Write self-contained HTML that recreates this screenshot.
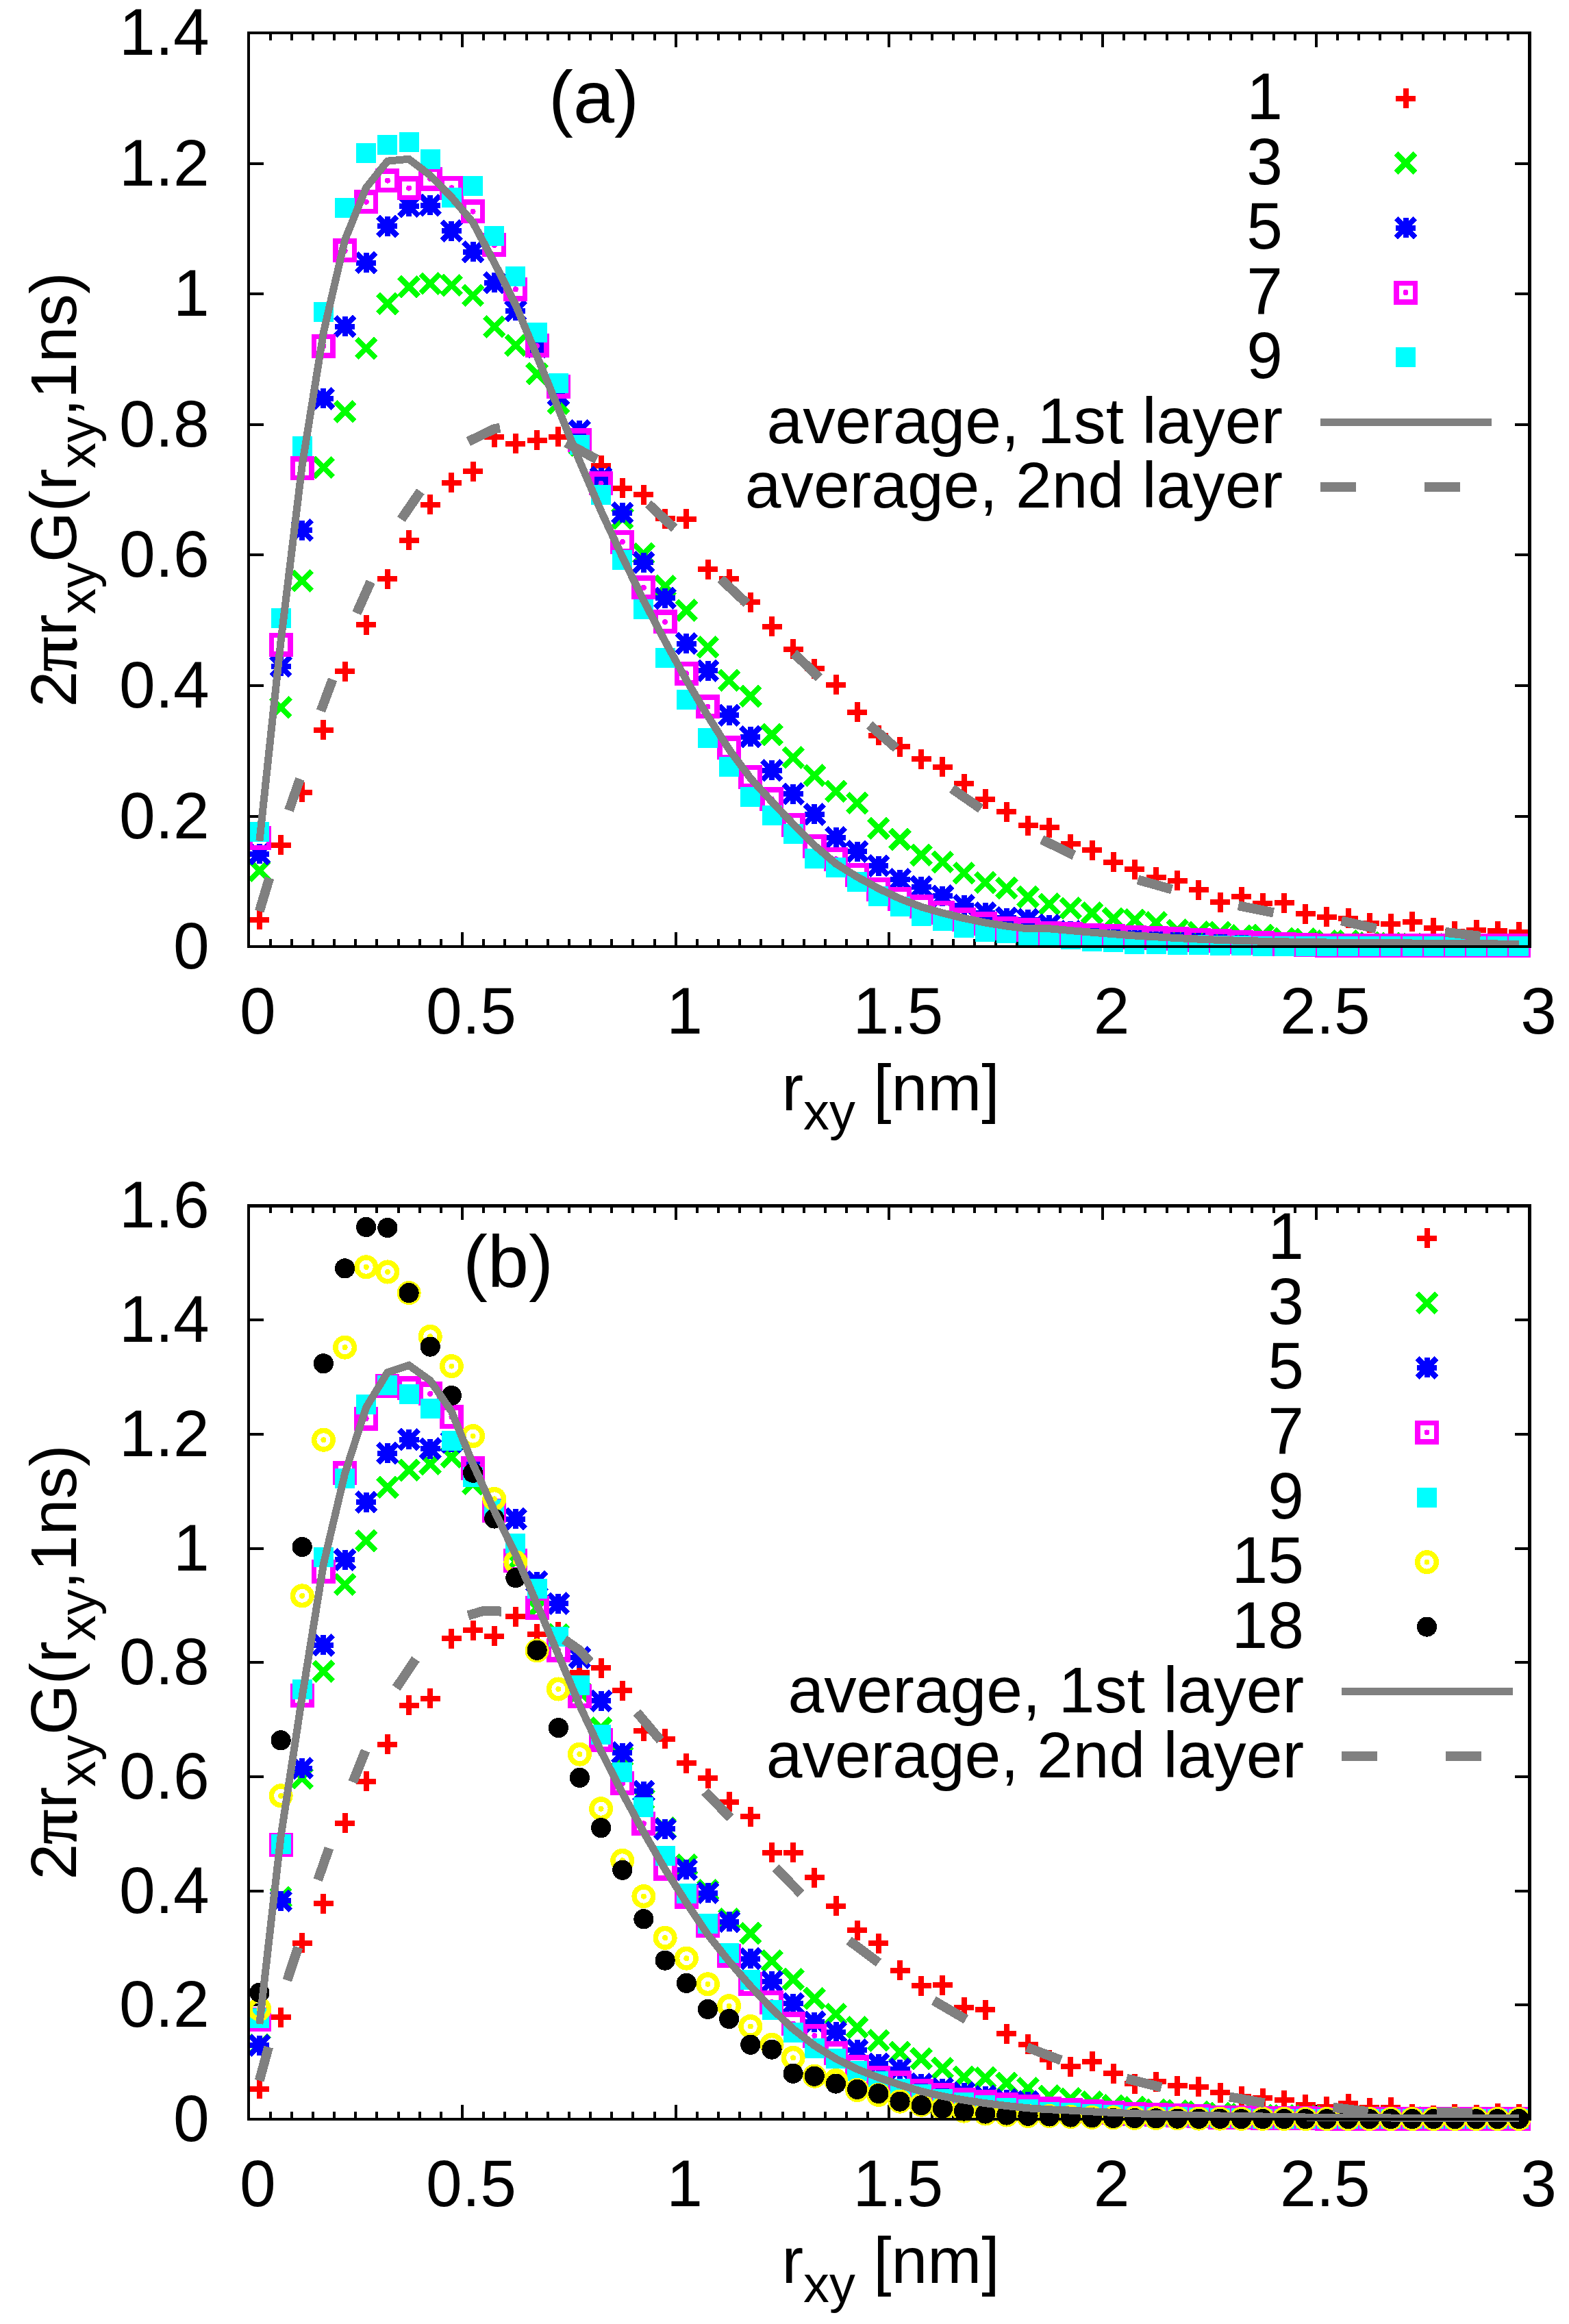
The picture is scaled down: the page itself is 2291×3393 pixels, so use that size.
<!DOCTYPE html>
<html lang="en"><head><meta charset="utf-8"><title>2πr G(r, 1ns) — layers</title>
<style>html,body{margin:0;padding:0;background:#fff}svg{display:block}text{font-family:"Liberation Sans", Arial, Helvetica, sans-serif;fill:#000}</style></head><body>
<svg width="2291" height="3393" viewBox="0 0 2291 3393" shape-rendering="crispEdges">
<rect width="2291" height="3393" fill="#fff"/>
<g id="panel-a">
<path d="M363.3 1191.5h22M2233.5 1191.5h-22M363.3 1000.9h22M2233.5 1000.9h-22M363.3 810.4h22M2233.5 810.4h-22M363.3 619.9h22M2233.5 619.9h-22M363.3 429.4h22M2233.5 429.4h-22M363.3 238.8h22M2233.5 238.8h-22M394.5 1382.0v-11M394.5 48.3v11M425.6 1382.0v-11M425.6 48.3v11M456.8 1382.0v-11M456.8 48.3v11M488.0 1382.0v-11M488.0 48.3v11M519.1 1382.0v-11M519.1 48.3v11M550.3 1382.0v-11M550.3 48.3v11M581.5 1382.0v-11M581.5 48.3v11M612.7 1382.0v-11M612.7 48.3v11M643.8 1382.0v-11M643.8 48.3v11M675.0 1382.0v-21M675.0 48.3v21M706.2 1382.0v-11M706.2 48.3v11M737.3 1382.0v-11M737.3 48.3v11M768.5 1382.0v-11M768.5 48.3v11M799.7 1382.0v-11M799.7 48.3v11M830.9 1382.0v-11M830.9 48.3v11M862.0 1382.0v-11M862.0 48.3v11M893.2 1382.0v-11M893.2 48.3v11M924.4 1382.0v-11M924.4 48.3v11M955.5 1382.0v-11M955.5 48.3v11M986.7 1382.0v-21M986.7 48.3v21M1017.9 1382.0v-11M1017.9 48.3v11M1049.0 1382.0v-11M1049.0 48.3v11M1080.2 1382.0v-11M1080.2 48.3v11M1111.4 1382.0v-11M1111.4 48.3v11M1142.5 1382.0v-11M1142.5 48.3v11M1173.7 1382.0v-11M1173.7 48.3v11M1204.9 1382.0v-11M1204.9 48.3v11M1236.1 1382.0v-11M1236.1 48.3v11M1267.2 1382.0v-11M1267.2 48.3v11M1298.4 1382.0v-21M1298.4 48.3v21M1329.6 1382.0v-11M1329.6 48.3v11M1360.7 1382.0v-11M1360.7 48.3v11M1391.9 1382.0v-11M1391.9 48.3v11M1423.1 1382.0v-11M1423.1 48.3v11M1454.2 1382.0v-11M1454.2 48.3v11M1485.4 1382.0v-11M1485.4 48.3v11M1516.6 1382.0v-11M1516.6 48.3v11M1547.8 1382.0v-11M1547.8 48.3v11M1578.9 1382.0v-11M1578.9 48.3v11M1610.1 1382.0v-21M1610.1 48.3v21M1641.3 1382.0v-11M1641.3 48.3v11M1672.4 1382.0v-11M1672.4 48.3v11M1703.6 1382.0v-11M1703.6 48.3v11M1734.8 1382.0v-11M1734.8 48.3v11M1765.9 1382.0v-11M1765.9 48.3v11M1797.1 1382.0v-11M1797.1 48.3v11M1828.3 1382.0v-11M1828.3 48.3v11M1859.5 1382.0v-11M1859.5 48.3v11M1890.6 1382.0v-11M1890.6 48.3v11M1921.8 1382.0v-21M1921.8 48.3v21M1953.0 1382.0v-11M1953.0 48.3v11M1984.1 1382.0v-11M1984.1 48.3v11M2015.3 1382.0v-11M2015.3 48.3v11M2046.5 1382.0v-11M2046.5 48.3v11M2077.7 1382.0v-11M2077.7 48.3v11M2108.8 1382.0v-11M2108.8 48.3v11M2140.0 1382.0v-11M2140.0 48.3v11M2171.2 1382.0v-11M2171.2 48.3v11M2202.3 1382.0v-11M2202.3 48.3v11" stroke="#000" stroke-width="4" fill="none" shape-rendering="crispEdges"/>
<g><path d="M364.4 1342.6H393.4M378.9 1328.1V1357.1" stroke="#ff0000" stroke-width="8.0" fill="none"/><path d="M395.6 1233.7H424.6M410.1 1219.2V1248.2" stroke="#ff0000" stroke-width="8.0" fill="none"/><path d="M426.7 1156.5H455.7M441.2 1142.0V1171.0" stroke="#ff0000" stroke-width="8.0" fill="none"/><path d="M457.9 1065.5H486.9M472.4 1051.0V1080.0" stroke="#ff0000" stroke-width="8.0" fill="none"/><path d="M489.1 980.0H518.1M503.6 965.5V994.5" stroke="#ff0000" stroke-width="8.0" fill="none"/><path d="M520.2 912.2H549.2M534.7 897.7V926.7" stroke="#ff0000" stroke-width="8.0" fill="none"/><path d="M551.4 845.4H580.4M565.9 830.9V859.9" stroke="#ff0000" stroke-width="8.0" fill="none"/><path d="M582.6 788.8H611.6M597.1 774.3V803.3" stroke="#ff0000" stroke-width="8.0" fill="none"/><path d="M613.7 736.5H642.7M628.2 722.0V751.0" stroke="#ff0000" stroke-width="8.0" fill="none"/><path d="M644.9 704.7H673.9M659.4 690.2V719.2" stroke="#ff0000" stroke-width="8.0" fill="none"/><path d="M676.1 688.1H705.1M690.6 673.6V702.6" stroke="#ff0000" stroke-width="8.0" fill="none"/><path d="M707.3 638.4H736.3M721.8 623.9V652.9" stroke="#ff0000" stroke-width="8.0" fill="none"/><path d="M738.4 647.7H767.4M752.9 633.2V662.2" stroke="#ff0000" stroke-width="8.0" fill="none"/><path d="M769.6 642.6H798.6M784.1 628.1V657.1" stroke="#ff0000" stroke-width="8.0" fill="none"/><path d="M800.8 637.5H829.8M815.3 623.0V652.0" stroke="#ff0000" stroke-width="8.0" fill="none"/><path d="M831.9 650.2H860.9M846.4 635.7V664.7" stroke="#ff0000" stroke-width="8.0" fill="none"/><path d="M863.1 679.6H892.1M877.6 665.1V694.1" stroke="#ff0000" stroke-width="8.0" fill="none"/><path d="M894.3 712.7H923.3M908.8 698.2V727.2" stroke="#ff0000" stroke-width="8.0" fill="none"/><path d="M925.4 722.1H954.4M939.9 707.6V736.6" stroke="#ff0000" stroke-width="8.0" fill="none"/><path d="M956.6 757.3H985.6M971.1 742.8V771.8" stroke="#ff0000" stroke-width="8.0" fill="none"/><path d="M987.8 757.8H1016.8M1002.3 743.3V772.3" stroke="#ff0000" stroke-width="8.0" fill="none"/><path d="M1019.0 831.2H1048.0M1033.5 816.7V845.7" stroke="#ff0000" stroke-width="8.0" fill="none"/><path d="M1050.1 845.3H1079.1M1064.6 830.8V859.8" stroke="#ff0000" stroke-width="8.0" fill="none"/><path d="M1081.3 879.2H1110.3M1095.8 864.7V893.7" stroke="#ff0000" stroke-width="8.0" fill="none"/><path d="M1112.5 914.6H1141.5M1127.0 900.1V929.1" stroke="#ff0000" stroke-width="8.0" fill="none"/><path d="M1143.6 947.5H1172.6M1158.1 933.0V962.0" stroke="#ff0000" stroke-width="8.0" fill="none"/><path d="M1174.8 976.0H1203.8M1189.3 961.5V990.5" stroke="#ff0000" stroke-width="8.0" fill="none"/><path d="M1206.0 999.7H1235.0M1220.5 985.2V1014.2" stroke="#ff0000" stroke-width="8.0" fill="none"/><path d="M1237.1 1039.8H1266.1M1251.6 1025.3V1054.3" stroke="#ff0000" stroke-width="8.0" fill="none"/><path d="M1268.3 1073.7H1297.3M1282.8 1059.2V1088.2" stroke="#ff0000" stroke-width="8.0" fill="none"/><path d="M1299.5 1090.2H1328.5M1314.0 1075.7V1104.7" stroke="#ff0000" stroke-width="8.0" fill="none"/><path d="M1330.7 1108.1H1359.7M1345.2 1093.6V1122.6" stroke="#ff0000" stroke-width="8.0" fill="none"/><path d="M1361.8 1119.6H1390.8M1376.3 1105.1V1134.1" stroke="#ff0000" stroke-width="8.0" fill="none"/><path d="M1393.0 1144.3H1422.0M1407.5 1129.8V1158.8" stroke="#ff0000" stroke-width="8.0" fill="none"/><path d="M1424.2 1166.7H1453.2M1438.7 1152.2V1181.2" stroke="#ff0000" stroke-width="8.0" fill="none"/><path d="M1455.3 1185.1H1484.3M1469.8 1170.6V1199.6" stroke="#ff0000" stroke-width="8.0" fill="none"/><path d="M1486.5 1205.0H1515.5M1501.0 1190.5V1219.5" stroke="#ff0000" stroke-width="8.0" fill="none"/><path d="M1517.7 1208.0H1546.7M1532.2 1193.5V1222.5" stroke="#ff0000" stroke-width="8.0" fill="none"/><path d="M1548.8 1232.2H1577.8M1563.3 1217.7V1246.7" stroke="#ff0000" stroke-width="8.0" fill="none"/><path d="M1580.0 1241.1H1609.0M1594.5 1226.6V1255.6" stroke="#ff0000" stroke-width="8.0" fill="none"/><path d="M1611.2 1258.9H1640.2M1625.7 1244.4V1273.4" stroke="#ff0000" stroke-width="8.0" fill="none"/><path d="M1642.4 1269.1H1671.4M1656.9 1254.6V1283.6" stroke="#ff0000" stroke-width="8.0" fill="none"/><path d="M1673.5 1280.6H1702.5M1688.0 1266.1V1295.1" stroke="#ff0000" stroke-width="8.0" fill="none"/><path d="M1704.7 1285.7H1733.7M1719.2 1271.2V1300.2" stroke="#ff0000" stroke-width="8.0" fill="none"/><path d="M1735.9 1299.0H1764.9M1750.4 1284.5V1313.5" stroke="#ff0000" stroke-width="8.0" fill="none"/><path d="M1767.0 1317.1H1796.0M1781.5 1302.6V1331.6" stroke="#ff0000" stroke-width="8.0" fill="none"/><path d="M1798.2 1309.2H1827.2M1812.7 1294.7V1323.7" stroke="#ff0000" stroke-width="8.0" fill="none"/><path d="M1829.4 1318.9H1858.4M1843.9 1304.4V1333.4" stroke="#ff0000" stroke-width="8.0" fill="none"/><path d="M1860.5 1318.3H1889.5M1875.0 1303.8V1332.8" stroke="#ff0000" stroke-width="8.0" fill="none"/><path d="M1891.7 1334.1H1920.7M1906.2 1319.6V1348.6" stroke="#ff0000" stroke-width="8.0" fill="none"/><path d="M1922.9 1338.7H1951.9M1937.4 1324.2V1353.2" stroke="#ff0000" stroke-width="8.0" fill="none"/><path d="M1954.1 1340.8H1983.1M1968.6 1326.3V1355.3" stroke="#ff0000" stroke-width="8.0" fill="none"/><path d="M1985.2 1347.7H2014.2M1999.7 1333.2V1362.2" stroke="#ff0000" stroke-width="8.0" fill="none"/><path d="M2016.4 1348.9H2045.4M2030.9 1334.4V1363.4" stroke="#ff0000" stroke-width="8.0" fill="none"/><path d="M2047.6 1345.9H2076.6M2062.1 1331.4V1360.4" stroke="#ff0000" stroke-width="8.0" fill="none"/><path d="M2078.7 1354.5H2107.7M2093.2 1340.0V1369.0" stroke="#ff0000" stroke-width="8.0" fill="none"/><path d="M2109.9 1359.6H2138.9M2124.4 1345.1V1374.1" stroke="#ff0000" stroke-width="8.0" fill="none"/><path d="M2141.1 1357.9H2170.1M2155.6 1343.4V1372.4" stroke="#ff0000" stroke-width="8.0" fill="none"/><path d="M2172.2 1359.1H2201.2M2186.7 1344.6V1373.6" stroke="#ff0000" stroke-width="8.0" fill="none"/><path d="M2203.4 1360.9H2232.4M2217.9 1346.4V1375.4" stroke="#ff0000" stroke-width="8.0" fill="none"/></g>
<g><path d="M364.9 1257.2L392.9 1285.2M364.9 1285.2L392.9 1257.2" stroke="#00ff00" stroke-width="8.0" fill="none"/><path d="M396.1 1018.8L424.1 1046.8M396.1 1046.8L424.1 1018.8" stroke="#00ff00" stroke-width="8.0" fill="none"/><path d="M427.2 834.0L455.2 862.0M427.2 862.0L455.2 834.0" stroke="#00ff00" stroke-width="8.0" fill="none"/><path d="M458.4 668.5L486.4 696.5M458.4 696.5L486.4 668.5" stroke="#00ff00" stroke-width="8.0" fill="none"/><path d="M489.6 586.9L517.6 614.9M489.6 614.9L517.6 586.9" stroke="#00ff00" stroke-width="8.0" fill="none"/><path d="M520.7 494.4L548.7 522.4M520.7 522.4L548.7 494.4" stroke="#00ff00" stroke-width="8.0" fill="none"/><path d="M551.9 429.4L579.9 457.4M551.9 457.4L579.9 429.4" stroke="#00ff00" stroke-width="8.0" fill="none"/><path d="M583.1 404.6L611.1 432.6M583.1 432.6L611.1 404.6" stroke="#00ff00" stroke-width="8.0" fill="none"/><path d="M614.2 400.1L642.2 428.1M614.2 428.1L642.2 400.1" stroke="#00ff00" stroke-width="8.0" fill="none"/><path d="M645.4 402.6L673.4 430.6M645.4 430.6L673.4 402.6" stroke="#00ff00" stroke-width="8.0" fill="none"/><path d="M676.6 417.4L704.6 445.4M676.6 445.4L704.6 417.4" stroke="#00ff00" stroke-width="8.0" fill="none"/><path d="M707.8 463.0L735.8 491.0M707.8 491.0L735.8 463.0" stroke="#00ff00" stroke-width="8.0" fill="none"/><path d="M738.9 490.2L766.9 518.2M738.9 518.2L766.9 490.2" stroke="#00ff00" stroke-width="8.0" fill="none"/><path d="M770.1 531.7L798.1 559.7M770.1 559.7L798.1 531.7" stroke="#00ff00" stroke-width="8.0" fill="none"/><path d="M801.3 574.8L829.3 602.8M801.3 602.8L829.3 574.8" stroke="#00ff00" stroke-width="8.0" fill="none"/><path d="M832.4 636.0L860.4 664.0M832.4 664.0L860.4 636.0" stroke="#00ff00" stroke-width="8.0" fill="none"/><path d="M863.6 689.8L891.6 717.8M863.6 717.8L891.6 689.8" stroke="#00ff00" stroke-width="8.0" fill="none"/><path d="M894.8 742.8L922.8 770.8M894.8 770.8L922.8 742.8" stroke="#00ff00" stroke-width="8.0" fill="none"/><path d="M925.9 794.6L953.9 822.6M925.9 822.6L953.9 794.6" stroke="#00ff00" stroke-width="8.0" fill="none"/><path d="M957.1 841.7L985.1 869.7M957.1 869.7L985.1 841.7" stroke="#00ff00" stroke-width="8.0" fill="none"/><path d="M988.3 877.2L1016.3 905.2M988.3 905.2L1016.3 877.2" stroke="#00ff00" stroke-width="8.0" fill="none"/><path d="M1019.5 930.7L1047.5 958.7M1019.5 958.7L1047.5 930.7" stroke="#00ff00" stroke-width="8.0" fill="none"/><path d="M1050.6 979.4L1078.6 1007.4M1050.6 1007.4L1078.6 979.4" stroke="#00ff00" stroke-width="8.0" fill="none"/><path d="M1081.8 1002.3L1109.8 1030.3M1081.8 1030.3L1109.8 1002.3" stroke="#00ff00" stroke-width="8.0" fill="none"/><path d="M1113.0 1058.4L1141.0 1086.4M1113.0 1086.4L1141.0 1058.4" stroke="#00ff00" stroke-width="8.0" fill="none"/><path d="M1144.1 1092.0L1172.1 1120.0M1144.1 1120.0L1172.1 1092.0" stroke="#00ff00" stroke-width="8.0" fill="none"/><path d="M1175.3 1118.3L1203.3 1146.3M1175.3 1146.3L1203.3 1118.3" stroke="#00ff00" stroke-width="8.0" fill="none"/><path d="M1206.5 1141.2L1234.5 1169.2M1206.5 1169.2L1234.5 1141.2" stroke="#00ff00" stroke-width="8.0" fill="none"/><path d="M1237.6 1158.6L1265.6 1186.6M1237.6 1186.6L1265.6 1158.6" stroke="#00ff00" stroke-width="8.0" fill="none"/><path d="M1268.8 1195.3L1296.8 1223.3M1268.8 1223.3L1296.8 1195.3" stroke="#00ff00" stroke-width="8.0" fill="none"/><path d="M1300.0 1211.4L1328.0 1239.4M1300.0 1239.4L1328.0 1211.4" stroke="#00ff00" stroke-width="8.0" fill="none"/><path d="M1331.2 1234.3L1359.2 1262.3M1331.2 1262.3L1359.2 1234.3" stroke="#00ff00" stroke-width="8.0" fill="none"/><path d="M1362.3 1244.5L1390.3 1272.5M1362.3 1272.5L1390.3 1244.5" stroke="#00ff00" stroke-width="8.0" fill="none"/><path d="M1393.5 1260.6L1421.5 1288.6M1393.5 1288.6L1421.5 1260.6" stroke="#00ff00" stroke-width="8.0" fill="none"/><path d="M1424.7 1274.6L1452.7 1302.6M1424.7 1302.6L1452.7 1274.6" stroke="#00ff00" stroke-width="8.0" fill="none"/><path d="M1455.8 1282.7L1483.8 1310.7M1455.8 1310.7L1483.8 1282.7" stroke="#00ff00" stroke-width="8.0" fill="none"/><path d="M1487.0 1295.5L1515.0 1323.5M1487.0 1323.5L1515.0 1295.5" stroke="#00ff00" stroke-width="8.0" fill="none"/><path d="M1518.2 1306.1L1546.2 1334.1M1518.2 1334.1L1546.2 1306.1" stroke="#00ff00" stroke-width="8.0" fill="none"/><path d="M1549.3 1312.0L1577.3 1340.0M1549.3 1340.0L1577.3 1312.0" stroke="#00ff00" stroke-width="8.0" fill="none"/><path d="M1580.5 1318.9L1608.5 1346.9M1580.5 1346.9L1608.5 1318.9" stroke="#00ff00" stroke-width="8.0" fill="none"/><path d="M1611.7 1327.3L1639.7 1355.3M1611.7 1355.3L1639.7 1327.3" stroke="#00ff00" stroke-width="8.0" fill="none"/><path d="M1642.9 1329.1L1670.9 1357.1M1642.9 1357.1L1670.9 1329.1" stroke="#00ff00" stroke-width="8.0" fill="none"/><path d="M1674.0 1332.9L1702.0 1360.9M1674.0 1360.9L1702.0 1332.9" stroke="#00ff00" stroke-width="8.0" fill="none"/><path d="M1705.2 1344.1L1733.2 1372.1M1705.2 1372.1L1733.2 1344.1" stroke="#00ff00" stroke-width="8.0" fill="none"/><path d="M1736.4 1347.2L1764.4 1375.2M1736.4 1375.2L1764.4 1347.2" stroke="#00ff00" stroke-width="8.0" fill="none"/><path d="M1767.5 1347.2L1795.5 1375.2M1767.5 1375.2L1795.5 1347.2" stroke="#00ff00" stroke-width="8.0" fill="none"/><path d="M1798.7 1352.3L1826.7 1380.3M1798.7 1380.3L1826.7 1352.3" stroke="#00ff00" stroke-width="8.0" fill="none"/><path d="M1829.9 1351.5L1857.9 1379.5M1829.9 1379.5L1857.9 1351.5" stroke="#00ff00" stroke-width="8.0" fill="none"/><path d="M1861.0 1356.1L1889.0 1384.1M1861.0 1384.1L1889.0 1356.1" stroke="#00ff00" stroke-width="8.0" fill="none"/><path d="M1892.2 1356.9L1920.2 1384.9M1892.2 1384.9L1920.2 1356.9" stroke="#00ff00" stroke-width="8.0" fill="none"/><path d="M1923.4 1359.9L1951.4 1387.9M1923.4 1387.9L1951.4 1359.9" stroke="#00ff00" stroke-width="8.0" fill="none"/><path d="M1954.6 1359.9L1982.6 1387.9M1954.6 1387.9L1982.6 1359.9" stroke="#00ff00" stroke-width="8.0" fill="none"/><path d="M1985.7 1362.5L2013.7 1390.5M1985.7 1390.5L2013.7 1362.5" stroke="#00ff00" stroke-width="8.0" fill="none"/><path d="M2016.9 1363.5L2044.9 1391.5M2016.9 1391.5L2044.9 1363.5" stroke="#00ff00" stroke-width="8.0" fill="none"/><path d="M2048.1 1364.3L2076.1 1392.3M2048.1 1392.3L2076.1 1364.3" stroke="#00ff00" stroke-width="8.0" fill="none"/><path d="M2079.2 1365.0L2107.2 1393.0M2079.2 1393.0L2107.2 1365.0" stroke="#00ff00" stroke-width="8.0" fill="none"/><path d="M2110.4 1365.5L2138.4 1393.5M2110.4 1393.5L2138.4 1365.5" stroke="#00ff00" stroke-width="8.0" fill="none"/><path d="M2141.6 1365.8L2169.6 1393.8M2141.6 1393.8L2169.6 1365.8" stroke="#00ff00" stroke-width="8.0" fill="none"/><path d="M2172.7 1366.0L2200.7 1394.0M2172.7 1394.0L2200.7 1366.0" stroke="#00ff00" stroke-width="8.0" fill="none"/><path d="M2203.9 1366.0L2231.9 1394.0M2203.9 1394.0L2231.9 1366.0" stroke="#00ff00" stroke-width="8.0" fill="none"/></g>
<g><path d="M364.4 1246.7H393.4M378.9 1232.2V1261.2M364.9 1232.7L392.9 1260.7M364.9 1260.7L392.9 1232.7" stroke="#0000ff" stroke-width="8.0" fill="none"/><path d="M395.6 972.9H424.6M410.1 958.4V987.4M396.1 958.9L424.1 986.9M396.1 986.9L424.1 958.9" stroke="#0000ff" stroke-width="8.0" fill="none"/><path d="M426.7 774.0H455.7M441.2 759.5V788.5M427.2 760.0L455.2 788.0M427.2 788.0L455.2 760.0" stroke="#0000ff" stroke-width="8.0" fill="none"/><path d="M457.9 581.8H486.9M472.4 567.3V596.3M458.4 567.8L486.4 595.8M458.4 595.8L486.4 567.8" stroke="#0000ff" stroke-width="8.0" fill="none"/><path d="M489.1 476.5H518.1M503.6 462.0V491.0M489.6 462.5L517.6 490.5M489.6 490.5L517.6 462.5" stroke="#0000ff" stroke-width="8.0" fill="none"/><path d="M520.2 383.5H549.2M534.7 369.0V398.0M520.7 369.5L548.7 397.5M520.7 397.5L548.7 369.5" stroke="#0000ff" stroke-width="8.0" fill="none"/><path d="M551.4 330.4H580.4M565.9 315.9V344.9M551.9 316.4L579.9 344.4M551.9 344.4L579.9 316.4" stroke="#0000ff" stroke-width="8.0" fill="none"/><path d="M582.6 301.4H611.6M597.1 286.9V315.9M583.1 287.4L611.1 315.4M583.1 315.4L611.1 287.4" stroke="#0000ff" stroke-width="8.0" fill="none"/><path d="M613.7 299.8H642.7M628.2 285.3V314.3M614.2 285.8L642.2 313.8M614.2 313.8L642.2 285.8" stroke="#0000ff" stroke-width="8.0" fill="none"/><path d="M644.9 337.1H673.9M659.4 322.6V351.6M645.4 323.1L673.4 351.1M645.4 351.1L673.4 323.1" stroke="#0000ff" stroke-width="8.0" fill="none"/><path d="M676.1 367.7H705.1M690.6 353.2V382.2M676.6 353.7L704.6 381.7M676.6 381.7L704.6 353.7" stroke="#0000ff" stroke-width="8.0" fill="none"/><path d="M707.3 412.8H736.3M721.8 398.3V427.3M707.8 398.8L735.8 426.8M707.8 426.8L735.8 398.8" stroke="#0000ff" stroke-width="8.0" fill="none"/><path d="M738.4 453.9H767.4M752.9 439.4V468.4M738.9 439.9L766.9 467.9M738.9 467.9L766.9 439.9" stroke="#0000ff" stroke-width="8.0" fill="none"/><path d="M769.6 506.7H798.6M784.1 492.2V521.2M770.1 492.7L798.1 520.7M770.1 520.7L798.1 492.7" stroke="#0000ff" stroke-width="8.0" fill="none"/><path d="M800.8 576.8H829.8M815.3 562.3V591.3M801.3 562.8L829.3 590.8M801.3 590.8L829.3 562.8" stroke="#0000ff" stroke-width="8.0" fill="none"/><path d="M831.9 628.8H860.9M846.4 614.3V643.3M832.4 614.8L860.4 642.8M832.4 642.8L860.4 614.8" stroke="#0000ff" stroke-width="8.0" fill="none"/><path d="M863.1 697.1H892.1M877.6 682.6V711.6M863.6 683.1L891.6 711.1M863.6 711.1L891.6 683.1" stroke="#0000ff" stroke-width="8.0" fill="none"/><path d="M894.3 748.9H923.3M908.8 734.4V763.4M894.8 734.9L922.8 762.9M894.8 762.9L922.8 734.9" stroke="#0000ff" stroke-width="8.0" fill="none"/><path d="M925.4 821.0H954.4M939.9 806.5V835.5M925.9 807.0L953.9 835.0M925.9 835.0L953.9 807.0" stroke="#0000ff" stroke-width="8.0" fill="none"/><path d="M956.6 873.3H985.6M971.1 858.8V887.8M957.1 859.3L985.1 887.3M957.1 887.3L985.1 859.3" stroke="#0000ff" stroke-width="8.0" fill="none"/><path d="M987.8 939.6H1016.8M1002.3 925.1V954.1M988.3 925.6L1016.3 953.6M988.3 953.6L1016.3 925.6" stroke="#0000ff" stroke-width="8.0" fill="none"/><path d="M1019.0 979.3H1048.0M1033.5 964.8V993.8M1019.5 965.3L1047.5 993.3M1019.5 993.3L1047.5 965.3" stroke="#0000ff" stroke-width="8.0" fill="none"/><path d="M1050.1 1044.3H1079.1M1064.6 1029.8V1058.8M1050.6 1030.3L1078.6 1058.3M1050.6 1058.3L1078.6 1030.3" stroke="#0000ff" stroke-width="8.0" fill="none"/><path d="M1081.3 1075.7H1110.3M1095.8 1061.2V1090.2M1081.8 1061.7L1109.8 1089.7M1081.8 1089.7L1109.8 1061.7" stroke="#0000ff" stroke-width="8.0" fill="none"/><path d="M1112.5 1124.7H1141.5M1127.0 1110.2V1139.2M1113.0 1110.7L1141.0 1138.7M1113.0 1138.7L1141.0 1110.7" stroke="#0000ff" stroke-width="8.0" fill="none"/><path d="M1143.6 1159.1H1172.6M1158.1 1144.6V1173.6M1144.1 1145.1L1172.1 1173.1M1144.1 1173.1L1172.1 1145.1" stroke="#0000ff" stroke-width="8.0" fill="none"/><path d="M1174.8 1188.9H1203.8M1189.3 1174.4V1203.4M1175.3 1174.9L1203.3 1202.9M1175.3 1202.9L1203.3 1174.9" stroke="#0000ff" stroke-width="8.0" fill="none"/><path d="M1206.0 1222.8H1235.0M1220.5 1208.3V1237.3M1206.5 1208.8L1234.5 1236.8M1206.5 1236.8L1234.5 1208.8" stroke="#0000ff" stroke-width="8.0" fill="none"/><path d="M1237.1 1243.2H1266.1M1251.6 1228.7V1257.7M1237.6 1229.2L1265.6 1257.2M1237.6 1257.2L1265.6 1229.2" stroke="#0000ff" stroke-width="8.0" fill="none"/><path d="M1268.3 1264.1H1297.3M1282.8 1249.6V1278.6M1268.8 1250.1L1296.8 1278.1M1268.8 1278.1L1296.8 1250.1" stroke="#0000ff" stroke-width="8.0" fill="none"/><path d="M1299.5 1284.0H1328.5M1314.0 1269.5V1298.5M1300.0 1270.0L1328.0 1298.0M1300.0 1298.0L1328.0 1270.0" stroke="#0000ff" stroke-width="8.0" fill="none"/><path d="M1330.7 1294.7H1359.7M1345.2 1280.2V1309.2M1331.2 1280.7L1359.2 1308.7M1331.2 1308.7L1359.2 1280.7" stroke="#0000ff" stroke-width="8.0" fill="none"/><path d="M1361.8 1308.2H1390.8M1376.3 1293.7V1322.7M1362.3 1294.2L1390.3 1322.2M1362.3 1322.2L1390.3 1294.2" stroke="#0000ff" stroke-width="8.0" fill="none"/><path d="M1393.0 1321.7H1422.0M1407.5 1307.2V1336.2M1393.5 1307.7L1421.5 1335.7M1393.5 1335.7L1421.5 1307.7" stroke="#0000ff" stroke-width="8.0" fill="none"/><path d="M1424.2 1332.9H1453.2M1438.7 1318.4V1347.4M1424.7 1318.9L1452.7 1346.9M1424.7 1346.9L1452.7 1318.9" stroke="#0000ff" stroke-width="8.0" fill="none"/><path d="M1455.3 1340.1H1484.3M1469.8 1325.6V1354.6M1455.8 1326.1L1483.8 1354.1M1455.8 1354.1L1483.8 1326.1" stroke="#0000ff" stroke-width="8.0" fill="none"/><path d="M1486.5 1342.6H1515.5M1501.0 1328.1V1357.1M1487.0 1328.6L1515.0 1356.6M1487.0 1356.6L1515.0 1328.6" stroke="#0000ff" stroke-width="8.0" fill="none"/><path d="M1517.7 1350.7H1546.7M1532.2 1336.2V1365.2M1518.2 1336.7L1546.2 1364.7M1518.2 1364.7L1546.2 1336.7" stroke="#0000ff" stroke-width="8.0" fill="none"/><path d="M1548.8 1359.9H1577.8M1563.3 1345.4V1374.4M1549.3 1345.9L1577.3 1373.9M1549.3 1373.9L1577.3 1345.9" stroke="#0000ff" stroke-width="8.0" fill="none"/><path d="M1580.0 1364.7H1609.0M1594.5 1350.2V1379.2M1580.5 1350.7L1608.5 1378.7M1580.5 1378.7L1608.5 1350.7" stroke="#0000ff" stroke-width="8.0" fill="none"/><path d="M1611.2 1367.5H1640.2M1625.7 1353.0V1382.0M1611.7 1353.5L1639.7 1381.5M1611.7 1381.5L1639.7 1353.5" stroke="#0000ff" stroke-width="8.0" fill="none"/><path d="M1642.4 1369.3H1671.4M1656.9 1354.8V1383.8M1642.9 1355.3L1670.9 1383.3M1642.9 1383.3L1670.9 1355.3" stroke="#0000ff" stroke-width="8.0" fill="none"/><path d="M1673.5 1371.4H1702.5M1688.0 1356.9V1385.9M1674.0 1357.4L1702.0 1385.4M1674.0 1385.4L1702.0 1357.4" stroke="#0000ff" stroke-width="8.0" fill="none"/><path d="M1704.7 1373.4H1733.7M1719.2 1358.9V1387.9M1705.2 1359.4L1733.2 1387.4M1705.2 1387.4L1733.2 1359.4" stroke="#0000ff" stroke-width="8.0" fill="none"/><path d="M1735.9 1374.4H1764.9M1750.4 1359.9V1388.9M1736.4 1360.4L1764.4 1388.4M1736.4 1388.4L1764.4 1360.4" stroke="#0000ff" stroke-width="8.0" fill="none"/><path d="M1767.0 1375.7H1796.0M1781.5 1361.2V1390.2M1767.5 1361.7L1795.5 1389.7M1767.5 1389.7L1795.5 1361.7" stroke="#0000ff" stroke-width="8.0" fill="none"/><path d="M1798.2 1376.5H1827.2M1812.7 1362.0V1391.0M1798.7 1362.5L1826.7 1390.5M1798.7 1390.5L1826.7 1362.5" stroke="#0000ff" stroke-width="8.0" fill="none"/><path d="M1829.4 1377.2H1858.4M1843.9 1362.7V1391.7M1829.9 1363.2L1857.9 1391.2M1829.9 1391.2L1857.9 1363.2" stroke="#0000ff" stroke-width="8.0" fill="none"/><path d="M1860.5 1377.7H1889.5M1875.0 1363.2V1392.2M1861.0 1363.7L1889.0 1391.7M1861.0 1391.7L1889.0 1363.7" stroke="#0000ff" stroke-width="8.0" fill="none"/><path d="M1891.7 1378.3H1920.7M1906.2 1363.8V1392.8M1892.2 1364.3L1920.2 1392.3M1892.2 1392.3L1920.2 1364.3" stroke="#0000ff" stroke-width="8.0" fill="none"/><path d="M1922.9 1378.8H1951.9M1937.4 1364.3V1393.3M1923.4 1364.8L1951.4 1392.8M1923.4 1392.8L1951.4 1364.8" stroke="#0000ff" stroke-width="8.0" fill="none"/><path d="M1954.1 1379.0H1983.1M1968.6 1364.5V1393.5M1954.6 1365.0L1982.6 1393.0M1954.6 1393.0L1982.6 1365.0" stroke="#0000ff" stroke-width="8.0" fill="none"/><path d="M1985.2 1379.3H2014.2M1999.7 1364.8V1393.8M1985.7 1365.3L2013.7 1393.3M1985.7 1393.3L2013.7 1365.3" stroke="#0000ff" stroke-width="8.0" fill="none"/><path d="M2016.4 1379.5H2045.4M2030.9 1365.0V1394.0M2016.9 1365.5L2044.9 1393.5M2016.9 1393.5L2044.9 1365.5" stroke="#0000ff" stroke-width="8.0" fill="none"/><path d="M2047.6 1379.8H2076.6M2062.1 1365.3V1394.3M2048.1 1365.8L2076.1 1393.8M2048.1 1393.8L2076.1 1365.8" stroke="#0000ff" stroke-width="8.0" fill="none"/><path d="M2078.7 1380.0H2107.7M2093.2 1365.5V1394.5M2079.2 1366.0L2107.2 1394.0M2079.2 1394.0L2107.2 1366.0" stroke="#0000ff" stroke-width="8.0" fill="none"/><path d="M2109.9 1380.0H2138.9M2124.4 1365.5V1394.5M2110.4 1366.0L2138.4 1394.0M2110.4 1394.0L2138.4 1366.0" stroke="#0000ff" stroke-width="8.0" fill="none"/><path d="M2141.1 1380.3H2170.1M2155.6 1365.8V1394.8M2141.6 1366.3L2169.6 1394.3M2141.6 1394.3L2169.6 1366.3" stroke="#0000ff" stroke-width="8.0" fill="none"/><path d="M2172.2 1380.3H2201.2M2186.7 1365.8V1394.8M2172.7 1366.3L2200.7 1394.3M2172.7 1394.3L2200.7 1366.3" stroke="#0000ff" stroke-width="8.0" fill="none"/><path d="M2203.4 1380.3H2232.4M2217.9 1365.8V1394.8M2203.9 1366.3L2231.9 1394.3M2203.9 1394.3L2231.9 1366.3" stroke="#0000ff" stroke-width="8.0" fill="none"/></g>
<g><rect x="365.1" y="1210.0" width="27.5" height="27.5" stroke="#ff00ff" stroke-width="7.5" fill="none"/><circle cx="378.9" cy="1223.8" r="4" fill="#ff00ff"/><rect x="396.3" y="927.5" width="27.5" height="27.5" stroke="#ff00ff" stroke-width="7.5" fill="none"/><circle cx="410.1" cy="941.3" r="4" fill="#ff00ff"/><rect x="427.5" y="670.0" width="27.5" height="27.5" stroke="#ff00ff" stroke-width="7.5" fill="none"/><circle cx="441.2" cy="683.8" r="4" fill="#ff00ff"/><rect x="458.6" y="491.3" width="27.5" height="27.5" stroke="#ff00ff" stroke-width="7.5" fill="none"/><circle cx="472.4" cy="505.1" r="4" fill="#ff00ff"/><rect x="489.8" y="352.1" width="27.5" height="27.5" stroke="#ff00ff" stroke-width="7.5" fill="none"/><circle cx="503.6" cy="365.9" r="4" fill="#ff00ff"/><rect x="521.0" y="281.0" width="27.5" height="27.5" stroke="#ff00ff" stroke-width="7.5" fill="none"/><circle cx="534.7" cy="294.7" r="4" fill="#ff00ff"/><rect x="552.2" y="249.9" width="27.5" height="27.5" stroke="#ff00ff" stroke-width="7.5" fill="none"/><circle cx="565.9" cy="263.6" r="4" fill="#ff00ff"/><rect x="583.3" y="260.8" width="27.5" height="27.5" stroke="#ff00ff" stroke-width="7.5" fill="none"/><circle cx="597.1" cy="274.6" r="4" fill="#ff00ff"/><rect x="614.5" y="247.3" width="27.5" height="27.5" stroke="#ff00ff" stroke-width="7.5" fill="none"/><circle cx="628.2" cy="261.1" r="4" fill="#ff00ff"/><rect x="645.7" y="260.6" width="27.5" height="27.5" stroke="#ff00ff" stroke-width="7.5" fill="none"/><circle cx="659.4" cy="274.3" r="4" fill="#ff00ff"/><rect x="676.8" y="295.0" width="27.5" height="27.5" stroke="#ff00ff" stroke-width="7.5" fill="none"/><circle cx="690.6" cy="308.8" r="4" fill="#ff00ff"/><rect x="708.0" y="344.2" width="27.5" height="27.5" stroke="#ff00ff" stroke-width="7.5" fill="none"/><circle cx="721.8" cy="358.0" r="4" fill="#ff00ff"/><rect x="739.2" y="408.6" width="27.5" height="27.5" stroke="#ff00ff" stroke-width="7.5" fill="none"/><circle cx="752.9" cy="422.3" r="4" fill="#ff00ff"/><rect x="770.3" y="491.2" width="27.5" height="27.5" stroke="#ff00ff" stroke-width="7.5" fill="none"/><circle cx="784.1" cy="504.9" r="4" fill="#ff00ff"/><rect x="801.5" y="551.1" width="27.5" height="27.5" stroke="#ff00ff" stroke-width="7.5" fill="none"/><circle cx="815.3" cy="564.8" r="4" fill="#ff00ff"/><rect x="832.7" y="628.8" width="27.5" height="27.5" stroke="#ff00ff" stroke-width="7.5" fill="none"/><circle cx="846.4" cy="642.6" r="4" fill="#ff00ff"/><rect x="863.9" y="691.8" width="27.5" height="27.5" stroke="#ff00ff" stroke-width="7.5" fill="none"/><circle cx="877.6" cy="705.6" r="4" fill="#ff00ff"/><rect x="895.0" y="777.5" width="27.5" height="27.5" stroke="#ff00ff" stroke-width="7.5" fill="none"/><circle cx="908.8" cy="791.2" r="4" fill="#ff00ff"/><rect x="926.2" y="844.0" width="27.5" height="27.5" stroke="#ff00ff" stroke-width="7.5" fill="none"/><circle cx="939.9" cy="857.8" r="4" fill="#ff00ff"/><rect x="957.4" y="894.2" width="27.5" height="27.5" stroke="#ff00ff" stroke-width="7.5" fill="none"/><circle cx="971.1" cy="908.0" r="4" fill="#ff00ff"/><rect x="988.5" y="969.4" width="27.5" height="27.5" stroke="#ff00ff" stroke-width="7.5" fill="none"/><circle cx="1002.3" cy="983.2" r="4" fill="#ff00ff"/><rect x="1019.7" y="1017.8" width="27.5" height="27.5" stroke="#ff00ff" stroke-width="7.5" fill="none"/><circle cx="1033.5" cy="1031.6" r="4" fill="#ff00ff"/><rect x="1050.9" y="1077.8" width="27.5" height="27.5" stroke="#ff00ff" stroke-width="7.5" fill="none"/><circle cx="1064.6" cy="1091.5" r="4" fill="#ff00ff"/><rect x="1082.0" y="1120.3" width="27.5" height="27.5" stroke="#ff00ff" stroke-width="7.5" fill="none"/><circle cx="1095.8" cy="1134.1" r="4" fill="#ff00ff"/><rect x="1113.2" y="1153.0" width="27.5" height="27.5" stroke="#ff00ff" stroke-width="7.5" fill="none"/><circle cx="1127.0" cy="1166.7" r="4" fill="#ff00ff"/><rect x="1144.4" y="1190.7" width="27.5" height="27.5" stroke="#ff00ff" stroke-width="7.5" fill="none"/><circle cx="1158.1" cy="1204.4" r="4" fill="#ff00ff"/><rect x="1175.6" y="1221.3" width="27.5" height="27.5" stroke="#ff00ff" stroke-width="7.5" fill="none"/><circle cx="1189.3" cy="1235.0" r="4" fill="#ff00ff"/><rect x="1206.7" y="1240.4" width="27.5" height="27.5" stroke="#ff00ff" stroke-width="7.5" fill="none"/><circle cx="1220.5" cy="1254.2" r="4" fill="#ff00ff"/><rect x="1237.9" y="1263.4" width="27.5" height="27.5" stroke="#ff00ff" stroke-width="7.5" fill="none"/><circle cx="1251.6" cy="1277.1" r="4" fill="#ff00ff"/><rect x="1269.1" y="1284.5" width="27.5" height="27.5" stroke="#ff00ff" stroke-width="7.5" fill="none"/><circle cx="1282.8" cy="1298.3" r="4" fill="#ff00ff"/><rect x="1300.2" y="1298.3" width="27.5" height="27.5" stroke="#ff00ff" stroke-width="7.5" fill="none"/><circle cx="1314.0" cy="1312.0" r="4" fill="#ff00ff"/><rect x="1331.4" y="1309.8" width="27.5" height="27.5" stroke="#ff00ff" stroke-width="7.5" fill="none"/><circle cx="1345.2" cy="1323.5" r="4" fill="#ff00ff"/><rect x="1362.6" y="1318.7" width="27.5" height="27.5" stroke="#ff00ff" stroke-width="7.5" fill="none"/><circle cx="1376.3" cy="1332.4" r="4" fill="#ff00ff"/><rect x="1393.7" y="1328.9" width="27.5" height="27.5" stroke="#ff00ff" stroke-width="7.5" fill="none"/><circle cx="1407.5" cy="1342.6" r="4" fill="#ff00ff"/><rect x="1424.9" y="1335.2" width="27.5" height="27.5" stroke="#ff00ff" stroke-width="7.5" fill="none"/><circle cx="1438.7" cy="1349.0" r="4" fill="#ff00ff"/><rect x="1456.1" y="1341.6" width="27.5" height="27.5" stroke="#ff00ff" stroke-width="7.5" fill="none"/><circle cx="1469.8" cy="1355.4" r="4" fill="#ff00ff"/><rect x="1487.3" y="1344.2" width="27.5" height="27.5" stroke="#ff00ff" stroke-width="7.5" fill="none"/><circle cx="1501.0" cy="1357.9" r="4" fill="#ff00ff"/><rect x="1518.4" y="1348.4" width="27.5" height="27.5" stroke="#ff00ff" stroke-width="7.5" fill="none"/><circle cx="1532.2" cy="1362.2" r="4" fill="#ff00ff"/><rect x="1549.6" y="1349.9" width="27.5" height="27.5" stroke="#ff00ff" stroke-width="7.5" fill="none"/><circle cx="1563.3" cy="1363.7" r="4" fill="#ff00ff"/><rect x="1580.8" y="1351.4" width="27.5" height="27.5" stroke="#ff00ff" stroke-width="7.5" fill="none"/><circle cx="1594.5" cy="1365.1" r="4" fill="#ff00ff"/><rect x="1611.9" y="1352.8" width="27.5" height="27.5" stroke="#ff00ff" stroke-width="7.5" fill="none"/><circle cx="1625.7" cy="1366.6" r="4" fill="#ff00ff"/><rect x="1643.1" y="1354.3" width="27.5" height="27.5" stroke="#ff00ff" stroke-width="7.5" fill="none"/><circle cx="1656.9" cy="1368.1" r="4" fill="#ff00ff"/><rect x="1674.3" y="1355.8" width="27.5" height="27.5" stroke="#ff00ff" stroke-width="7.5" fill="none"/><circle cx="1688.0" cy="1369.5" r="4" fill="#ff00ff"/><rect x="1705.4" y="1357.2" width="27.5" height="27.5" stroke="#ff00ff" stroke-width="7.5" fill="none"/><circle cx="1719.2" cy="1371.0" r="4" fill="#ff00ff"/><rect x="1736.6" y="1358.7" width="27.5" height="27.5" stroke="#ff00ff" stroke-width="7.5" fill="none"/><circle cx="1750.4" cy="1372.5" r="4" fill="#ff00ff"/><rect x="1767.8" y="1360.2" width="27.5" height="27.5" stroke="#ff00ff" stroke-width="7.5" fill="none"/><circle cx="1781.5" cy="1373.9" r="4" fill="#ff00ff"/><rect x="1799.0" y="1361.6" width="27.5" height="27.5" stroke="#ff00ff" stroke-width="7.5" fill="none"/><circle cx="1812.7" cy="1375.4" r="4" fill="#ff00ff"/><rect x="1830.1" y="1363.1" width="27.5" height="27.5" stroke="#ff00ff" stroke-width="7.5" fill="none"/><circle cx="1843.9" cy="1376.9" r="4" fill="#ff00ff"/><rect x="1861.3" y="1364.6" width="27.5" height="27.5" stroke="#ff00ff" stroke-width="7.5" fill="none"/><circle cx="1875.0" cy="1378.3" r="4" fill="#ff00ff"/><rect x="1892.5" y="1366.0" width="27.5" height="27.5" stroke="#ff00ff" stroke-width="7.5" fill="none"/><circle cx="1906.2" cy="1379.8" r="4" fill="#ff00ff"/><rect x="1923.6" y="1366.3" width="27.5" height="27.5" stroke="#ff00ff" stroke-width="7.5" fill="none"/><circle cx="1937.4" cy="1380.0" r="4" fill="#ff00ff"/><rect x="1954.8" y="1366.3" width="27.5" height="27.5" stroke="#ff00ff" stroke-width="7.5" fill="none"/><circle cx="1968.6" cy="1380.0" r="4" fill="#ff00ff"/><rect x="1986.0" y="1366.5" width="27.5" height="27.5" stroke="#ff00ff" stroke-width="7.5" fill="none"/><circle cx="1999.7" cy="1380.3" r="4" fill="#ff00ff"/><rect x="2017.1" y="1366.5" width="27.5" height="27.5" stroke="#ff00ff" stroke-width="7.5" fill="none"/><circle cx="2030.9" cy="1380.3" r="4" fill="#ff00ff"/><rect x="2048.3" y="1366.5" width="27.5" height="27.5" stroke="#ff00ff" stroke-width="7.5" fill="none"/><circle cx="2062.1" cy="1380.3" r="4" fill="#ff00ff"/><rect x="2079.5" y="1366.8" width="27.5" height="27.5" stroke="#ff00ff" stroke-width="7.5" fill="none"/><circle cx="2093.2" cy="1380.5" r="4" fill="#ff00ff"/><rect x="2110.7" y="1366.8" width="27.5" height="27.5" stroke="#ff00ff" stroke-width="7.5" fill="none"/><circle cx="2124.4" cy="1380.5" r="4" fill="#ff00ff"/><rect x="2141.8" y="1366.8" width="27.5" height="27.5" stroke="#ff00ff" stroke-width="7.5" fill="none"/><circle cx="2155.6" cy="1380.5" r="4" fill="#ff00ff"/><rect x="2173.0" y="1366.8" width="27.5" height="27.5" stroke="#ff00ff" stroke-width="7.5" fill="none"/><circle cx="2186.7" cy="1380.5" r="4" fill="#ff00ff"/><rect x="2204.2" y="1366.8" width="27.5" height="27.5" stroke="#ff00ff" stroke-width="7.5" fill="none"/><circle cx="2217.9" cy="1380.5" r="4" fill="#ff00ff"/></g>
<g><rect x="364.4" y="1200.1" width="29.0" height="29.0" fill="#00ffff"/><rect x="395.6" y="887.5" width="29.0" height="29.0" fill="#00ffff"/><rect x="426.7" y="636.6" width="29.0" height="29.0" fill="#00ffff"/><rect x="457.9" y="441.4" width="29.0" height="29.0" fill="#00ffff"/><rect x="489.1" y="288.9" width="29.0" height="29.0" fill="#00ffff"/><rect x="520.2" y="208.7" width="29.0" height="29.0" fill="#00ffff"/><rect x="551.4" y="196.6" width="29.0" height="29.0" fill="#00ffff"/><rect x="582.6" y="192.8" width="29.0" height="29.0" fill="#00ffff"/><rect x="613.7" y="217.7" width="29.0" height="29.0" fill="#00ffff"/><rect x="644.9" y="273.6" width="29.0" height="29.0" fill="#00ffff"/><rect x="676.1" y="257.0" width="29.0" height="29.0" fill="#00ffff"/><rect x="707.3" y="330.2" width="29.0" height="29.0" fill="#00ffff"/><rect x="738.4" y="389.0" width="29.0" height="29.0" fill="#00ffff"/><rect x="769.6" y="470.5" width="29.0" height="29.0" fill="#00ffff"/><rect x="800.8" y="545.0" width="29.0" height="29.0" fill="#00ffff"/><rect x="831.9" y="634.5" width="29.0" height="29.0" fill="#00ffff"/><rect x="863.1" y="708.4" width="29.0" height="29.0" fill="#00ffff"/><rect x="894.3" y="802.7" width="29.0" height="29.0" fill="#00ffff"/><rect x="925.4" y="875.4" width="29.0" height="29.0" fill="#00ffff"/><rect x="956.6" y="946.0" width="29.0" height="29.0" fill="#00ffff"/><rect x="987.8" y="1006.9" width="29.0" height="29.0" fill="#00ffff"/><rect x="1019.0" y="1062.7" width="29.0" height="29.0" fill="#00ffff"/><rect x="1050.1" y="1104.8" width="29.0" height="29.0" fill="#00ffff"/><rect x="1081.3" y="1148.6" width="29.0" height="29.0" fill="#00ffff"/><rect x="1112.5" y="1175.7" width="29.0" height="29.0" fill="#00ffff"/><rect x="1143.6" y="1203.2" width="29.0" height="29.0" fill="#00ffff"/><rect x="1174.8" y="1239.2" width="29.0" height="29.0" fill="#00ffff"/><rect x="1206.0" y="1251.6" width="29.0" height="29.0" fill="#00ffff"/><rect x="1237.1" y="1273.1" width="29.0" height="29.0" fill="#00ffff"/><rect x="1268.3" y="1293.5" width="29.0" height="29.0" fill="#00ffff"/><rect x="1299.5" y="1309.0" width="29.0" height="29.0" fill="#00ffff"/><rect x="1330.7" y="1323.0" width="29.0" height="29.0" fill="#00ffff"/><rect x="1361.8" y="1329.7" width="29.0" height="29.0" fill="#00ffff"/><rect x="1393.0" y="1339.9" width="29.0" height="29.0" fill="#00ffff"/><rect x="1424.2" y="1345.5" width="29.0" height="29.0" fill="#00ffff"/><rect x="1455.3" y="1347.8" width="29.0" height="29.0" fill="#00ffff"/><rect x="1486.5" y="1353.1" width="29.0" height="29.0" fill="#00ffff"/><rect x="1517.7" y="1355.3" width="29.0" height="29.0" fill="#00ffff"/><rect x="1548.8" y="1357.1" width="29.0" height="29.0" fill="#00ffff"/><rect x="1580.0" y="1360.2" width="29.0" height="29.0" fill="#00ffff"/><rect x="1611.2" y="1360.7" width="29.0" height="29.0" fill="#00ffff"/><rect x="1642.4" y="1364.0" width="29.0" height="29.0" fill="#00ffff"/><rect x="1673.5" y="1363.5" width="29.0" height="29.0" fill="#00ffff"/><rect x="1704.7" y="1364.5" width="29.0" height="29.0" fill="#00ffff"/><rect x="1735.9" y="1364.8" width="29.0" height="29.0" fill="#00ffff"/><rect x="1767.0" y="1365.8" width="29.0" height="29.0" fill="#00ffff"/><rect x="1798.2" y="1365.8" width="29.0" height="29.0" fill="#00ffff"/><rect x="1829.4" y="1366.6" width="29.0" height="29.0" fill="#00ffff"/><rect x="1860.5" y="1366.6" width="29.0" height="29.0" fill="#00ffff"/><rect x="1891.7" y="1367.1" width="29.0" height="29.0" fill="#00ffff"/><rect x="1922.9" y="1367.1" width="29.0" height="29.0" fill="#00ffff"/><rect x="1954.1" y="1367.1" width="29.0" height="29.0" fill="#00ffff"/><rect x="1985.2" y="1367.1" width="29.0" height="29.0" fill="#00ffff"/><rect x="2016.4" y="1367.1" width="29.0" height="29.0" fill="#00ffff"/><rect x="2047.6" y="1367.1" width="29.0" height="29.0" fill="#00ffff"/><rect x="2078.7" y="1367.1" width="29.0" height="29.0" fill="#00ffff"/><rect x="2109.9" y="1367.1" width="29.0" height="29.0" fill="#00ffff"/><rect x="2141.1" y="1367.1" width="29.0" height="29.0" fill="#00ffff"/><rect x="2172.2" y="1367.1" width="29.0" height="29.0" fill="#00ffff"/><rect x="2203.4" y="1367.1" width="29.0" height="29.0" fill="#00ffff"/></g>
<path d="M378.9 1227.8L410.1 935.9L441.2 679.2L472.4 485.4L503.6 350.3L534.7 273.8L565.9 235.1L597.1 232.3L628.2 256.0L659.4 287.9L690.6 324.8L721.8 383.5L752.9 445.0L784.1 520.0L815.3 596.5L846.4 673.5L877.6 746.0L908.8 813.0L939.9 877.0L971.1 936.2L1002.3 993.0L1033.5 1045.3L1064.6 1094.1L1095.8 1136.1L1127.0 1170.5L1158.1 1203.0L1189.3 1234.3L1220.5 1261.0L1251.6 1280.2L1282.8 1297.2L1314.0 1312.0L1345.2 1324.0L1376.3 1332.9L1407.5 1340.6L1438.7 1347.0L1469.8 1352.1L1501.0 1355.9L1532.2 1355.8L1563.3 1358.6L1594.5 1361.2L1625.7 1363.7L1656.9 1366.0L1688.0 1367.8L1719.2 1369.6L1750.4 1371.1L1781.5 1372.4L1812.7 1373.4L1843.9 1374.2L1875.0 1374.9L1906.2 1375.4L1937.4 1376.0L1968.6 1376.2L1999.7 1376.5L2030.9 1376.7L2062.1 1377.0L2093.2 1377.2L2124.4 1377.5L2155.6 1377.7L2186.7 1378.0L2217.9 1378.0" stroke="#808080" stroke-width="11" fill="none" stroke-linejoin="miter"/>
<path d="M378.8 1330.3L393.3 1281.9" stroke="#808080" stroke-width="14" fill="none"/>
<path d="M421.9 1183.2L438.0 1137.3" stroke="#808080" stroke-width="14" fill="none"/>
<path d="M468.5 1037.9L485.6 992.0" stroke="#808080" stroke-width="14" fill="none"/>
<path d="M520.8 895.2L541.2 849.3" stroke="#808080" stroke-width="14" fill="none"/>
<path d="M585.8 758.2L613.9 717.4" stroke="#808080" stroke-width="14" fill="none"/>
<path d="M683.9 644.5L721.8 626.2L730.1 624.8" stroke="#808080" stroke-width="14" fill="none"/>
<path d="M826.7 646.4L871.3 670.6" stroke="#808080" stroke-width="14" fill="none"/>
<path d="M946.5 735.6L984.7 771.3" stroke="#808080" stroke-width="14" fill="none"/>
<path d="M1052.3 845.3L1090.5 881.0" stroke="#808080" stroke-width="14" fill="none"/>
<path d="M1159.3 953.8L1196.3 989.5" stroke="#808080" stroke-width="14" fill="none"/>
<path d="M1269.7 1058.4L1308.5 1092.3" stroke="#808080" stroke-width="14" fill="none"/>
<path d="M1390.0 1151.4L1432.1 1180.7" stroke="#808080" stroke-width="14" fill="none"/>
<path d="M1521.3 1225.8L1568.4 1248.7" stroke="#808080" stroke-width="14" fill="none"/>
<path d="M1661.5 1284.4L1711.2 1298.5" stroke="#808080" stroke-width="14" fill="none"/>
<path d="M1808.1 1322.2L1859.6 1332.4" stroke="#808080" stroke-width="14" fill="none"/>
<path d="M1958.6 1344.3L2009.5 1355.8" stroke="#808080" stroke-width="14" fill="none"/>
<path d="M2110.2 1360.9L2161.7 1366.8" stroke="#808080" stroke-width="14" fill="none"/>
<rect x="363.3" y="48.3" width="1870.2" height="1333.7" stroke="#000" stroke-width="4.2" fill="none" shape-rendering="crispEdges"/>
<text transform="translate(305.7 1414.0) scale(1 1.015)" font-size="94.8" text-anchor="end">0</text>
<text transform="translate(305.7 1223.5) scale(1 1.015)" font-size="94.8" text-anchor="end">0.2</text>
<text transform="translate(305.7 1032.9) scale(1 1.015)" font-size="94.8" text-anchor="end">0.4</text>
<text transform="translate(305.7 842.4) scale(1 1.015)" font-size="94.8" text-anchor="end">0.6</text>
<text transform="translate(305.7 651.9) scale(1 1.015)" font-size="94.8" text-anchor="end">0.8</text>
<text transform="translate(305.7 461.4) scale(1 1.015)" font-size="94.8" text-anchor="end">1</text>
<text transform="translate(305.7 270.8) scale(1 1.015)" font-size="94.8" text-anchor="end">1.2</text>
<text transform="translate(305.7 80.3) scale(1 1.015)" font-size="94.8" text-anchor="end">1.4</text>
<text transform="translate(376.3 1509.0) scale(1 1.015)" font-size="94.8" text-anchor="middle">0</text>
<text transform="translate(688.0 1509.0) scale(1 1.015)" font-size="94.8" text-anchor="middle">0.5</text>
<text transform="translate(999.7 1509.0) scale(1 1.015)" font-size="94.8" text-anchor="middle">1</text>
<text transform="translate(1311.4 1509.0) scale(1 1.015)" font-size="94.8" text-anchor="middle">1.5</text>
<text transform="translate(1623.1 1509.0) scale(1 1.015)" font-size="94.8" text-anchor="middle">2</text>
<text transform="translate(1934.8 1509.0) scale(1 1.015)" font-size="94.8" text-anchor="middle">2.5</text>
<text transform="translate(2246.5 1509.0) scale(1 1.015)" font-size="94.8" text-anchor="middle">3</text>
<text x="1141.5" y="1621.2" font-size="94.8">r<tspan font-size="75.8" dy="28">xy</tspan><tspan dy="-28"> [nm]</tspan></text>
<g transform="translate(111.4 1032.5) rotate(-90)" font-size="94.8"><text x="0" y="0">2</text><text x="52" y="0" style="font-family:'Liberation Serif', 'DejaVu Serif', serif;font-size:100px" stroke="#000" stroke-width="1.6">π</text><text x="104.2" y="0">r<tspan font-size="75.8" dy="28">xy</tspan><tspan dy="-28">G(r</tspan><tspan font-size="75.8" dy="28">xy</tspan><tspan dy="-28">,1ns)</tspan></text></g>
<text transform="translate(1873.0 174.0) scale(1 1.015)" font-size="94.8" text-anchor="end">1</text>
<path d="M2038.0 143.5H2067.0M2052.5 129.0V158.0" stroke="#ff0000" stroke-width="8.0" fill="none"/>
<text transform="translate(1873.0 268.6) scale(1 1.015)" font-size="94.8" text-anchor="end">3</text>
<path d="M2038.5 224.1L2066.5 252.1M2038.5 252.1L2066.5 224.1" stroke="#00ff00" stroke-width="8.0" fill="none"/>
<text transform="translate(1873.0 363.1) scale(1 1.015)" font-size="94.8" text-anchor="end">5</text>
<path d="M2038.0 332.6H2067.0M2052.5 318.1V347.1M2038.5 318.6L2066.5 346.6M2038.5 346.6L2066.5 318.6" stroke="#0000ff" stroke-width="8.0" fill="none"/>
<text transform="translate(1873.0 457.6) scale(1 1.015)" font-size="94.8" text-anchor="end">7</text>
<rect x="2038.8" y="413.4" width="27.5" height="27.5" stroke="#ff00ff" stroke-width="7.5" fill="none"/><circle cx="2052.5" cy="427.1" r="4" fill="#ff00ff"/>
<text transform="translate(1873.0 552.2) scale(1 1.015)" font-size="94.8" text-anchor="end">9</text>
<rect x="2038.0" y="507.2" width="29.0" height="29.0" fill="#00ffff"/>
<text x="1873.0" y="646.8" font-size="94.8" text-anchor="end" >average, 1st layer</text>
<path d="M1928 616.2H2178" stroke="#808080" stroke-width="11" shape-rendering="crispEdges"/>
<text x="1873.0" y="741.3" font-size="94.8" text-anchor="end" >average, 2nd layer</text>
<path d="M1928 710.8H2178" stroke="#808080" stroke-width="14" stroke-dasharray="52 100" shape-rendering="crispEdges"/>
</g>
<g id="panel-b">
<path d="M363.3 2927.3h22M2233.5 2927.3h-22M363.3 2760.6h22M2233.5 2760.6h-22M363.3 2593.9h22M2233.5 2593.9h-22M363.3 2427.2h22M2233.5 2427.2h-22M363.3 2260.5h22M2233.5 2260.5h-22M363.3 2093.8h22M2233.5 2093.8h-22M363.3 1927.1h22M2233.5 1927.1h-22M394.5 3094.0v-11M394.5 1760.4v11M425.6 3094.0v-11M425.6 1760.4v11M456.8 3094.0v-11M456.8 1760.4v11M488.0 3094.0v-11M488.0 1760.4v11M519.1 3094.0v-11M519.1 1760.4v11M550.3 3094.0v-11M550.3 1760.4v11M581.5 3094.0v-11M581.5 1760.4v11M612.7 3094.0v-11M612.7 1760.4v11M643.8 3094.0v-11M643.8 1760.4v11M675.0 3094.0v-21M675.0 1760.4v21M706.2 3094.0v-11M706.2 1760.4v11M737.3 3094.0v-11M737.3 1760.4v11M768.5 3094.0v-11M768.5 1760.4v11M799.7 3094.0v-11M799.7 1760.4v11M830.9 3094.0v-11M830.9 1760.4v11M862.0 3094.0v-11M862.0 1760.4v11M893.2 3094.0v-11M893.2 1760.4v11M924.4 3094.0v-11M924.4 1760.4v11M955.5 3094.0v-11M955.5 1760.4v11M986.7 3094.0v-21M986.7 1760.4v21M1017.9 3094.0v-11M1017.9 1760.4v11M1049.0 3094.0v-11M1049.0 1760.4v11M1080.2 3094.0v-11M1080.2 1760.4v11M1111.4 3094.0v-11M1111.4 1760.4v11M1142.5 3094.0v-11M1142.5 1760.4v11M1173.7 3094.0v-11M1173.7 1760.4v11M1204.9 3094.0v-11M1204.9 1760.4v11M1236.1 3094.0v-11M1236.1 1760.4v11M1267.2 3094.0v-11M1267.2 1760.4v11M1298.4 3094.0v-21M1298.4 1760.4v21M1329.6 3094.0v-11M1329.6 1760.4v11M1360.7 3094.0v-11M1360.7 1760.4v11M1391.9 3094.0v-11M1391.9 1760.4v11M1423.1 3094.0v-11M1423.1 1760.4v11M1454.2 3094.0v-11M1454.2 1760.4v11M1485.4 3094.0v-11M1485.4 1760.4v11M1516.6 3094.0v-11M1516.6 1760.4v11M1547.8 3094.0v-11M1547.8 1760.4v11M1578.9 3094.0v-11M1578.9 1760.4v11M1610.1 3094.0v-21M1610.1 1760.4v21M1641.3 3094.0v-11M1641.3 1760.4v11M1672.4 3094.0v-11M1672.4 1760.4v11M1703.6 3094.0v-11M1703.6 1760.4v11M1734.8 3094.0v-11M1734.8 1760.4v11M1765.9 3094.0v-11M1765.9 1760.4v11M1797.1 3094.0v-11M1797.1 1760.4v11M1828.3 3094.0v-11M1828.3 1760.4v11M1859.5 3094.0v-11M1859.5 1760.4v11M1890.6 3094.0v-11M1890.6 1760.4v11M1921.8 3094.0v-21M1921.8 1760.4v21M1953.0 3094.0v-11M1953.0 1760.4v11M1984.1 3094.0v-11M1984.1 1760.4v11M2015.3 3094.0v-11M2015.3 1760.4v11M2046.5 3094.0v-11M2046.5 1760.4v11M2077.7 3094.0v-11M2077.7 1760.4v11M2108.8 3094.0v-11M2108.8 1760.4v11M2140.0 3094.0v-11M2140.0 1760.4v11M2171.2 3094.0v-11M2171.2 1760.4v11M2202.3 3094.0v-11M2202.3 1760.4v11" stroke="#000" stroke-width="4" fill="none" shape-rendering="crispEdges"/>
<g><path d="M364.4 3049.9H393.4M378.9 3035.4V3064.4" stroke="#ff0000" stroke-width="8.0" fill="none"/><path d="M395.6 2945.1H424.6M410.1 2930.6V2959.6" stroke="#ff0000" stroke-width="8.0" fill="none"/><path d="M426.7 2836.5H455.7M441.2 2822.0V2851.0" stroke="#ff0000" stroke-width="8.0" fill="none"/><path d="M457.9 2779.1H486.9M472.4 2764.6V2793.6" stroke="#ff0000" stroke-width="8.0" fill="none"/><path d="M489.1 2661.9H518.1M503.6 2647.4V2676.4" stroke="#ff0000" stroke-width="8.0" fill="none"/><path d="M520.2 2600.7H549.2M534.7 2586.2V2615.2" stroke="#ff0000" stroke-width="8.0" fill="none"/><path d="M551.4 2546.6H580.4M565.9 2532.1V2561.1" stroke="#ff0000" stroke-width="8.0" fill="none"/><path d="M582.6 2489.8H611.6M597.1 2475.3V2504.3" stroke="#ff0000" stroke-width="8.0" fill="none"/><path d="M613.7 2479.6H642.7M628.2 2465.1V2494.1" stroke="#ff0000" stroke-width="8.0" fill="none"/><path d="M644.9 2392.1H673.9M659.4 2377.6V2406.6" stroke="#ff0000" stroke-width="8.0" fill="none"/><path d="M676.1 2380.1H705.1M690.6 2365.6V2394.6" stroke="#ff0000" stroke-width="8.0" fill="none"/><path d="M707.3 2388.6H736.3M721.8 2374.1V2403.1" stroke="#ff0000" stroke-width="8.0" fill="none"/><path d="M738.4 2360.2H767.4M752.9 2345.7V2374.7" stroke="#ff0000" stroke-width="8.0" fill="none"/><path d="M769.6 2385.7H798.6M784.1 2371.2V2400.2" stroke="#ff0000" stroke-width="8.0" fill="none"/><path d="M800.8 2382.4H829.8M815.3 2367.9V2396.9" stroke="#ff0000" stroke-width="8.0" fill="none"/><path d="M831.9 2442.1H860.9M846.4 2427.6V2456.6" stroke="#ff0000" stroke-width="8.0" fill="none"/><path d="M863.1 2435.4H892.1M877.6 2420.9V2449.9" stroke="#ff0000" stroke-width="8.0" fill="none"/><path d="M894.3 2468.1H923.3M908.8 2453.6V2482.6" stroke="#ff0000" stroke-width="8.0" fill="none"/><path d="M925.4 2527.2H954.4M939.9 2512.7V2541.7" stroke="#ff0000" stroke-width="8.0" fill="none"/><path d="M956.6 2538.7H985.6M971.1 2524.2V2553.2" stroke="#ff0000" stroke-width="8.0" fill="none"/><path d="M987.8 2574.4H1016.8M1002.3 2559.9V2588.9" stroke="#ff0000" stroke-width="8.0" fill="none"/><path d="M1019.0 2596.1H1048.0M1033.5 2581.6V2610.6" stroke="#ff0000" stroke-width="8.0" fill="none"/><path d="M1050.1 2630.5H1079.1M1064.6 2616.0V2645.0" stroke="#ff0000" stroke-width="8.0" fill="none"/><path d="M1081.3 2652.1H1110.3M1095.8 2637.6V2666.6" stroke="#ff0000" stroke-width="8.0" fill="none"/><path d="M1112.5 2704.8H1141.5M1127.0 2690.3V2719.3" stroke="#ff0000" stroke-width="8.0" fill="none"/><path d="M1143.6 2704.8H1172.6M1158.1 2690.3V2719.3" stroke="#ff0000" stroke-width="8.0" fill="none"/><path d="M1174.8 2741.0H1203.8M1189.3 2726.5V2755.5" stroke="#ff0000" stroke-width="8.0" fill="none"/><path d="M1206.0 2782.6H1235.0M1220.5 2768.1V2797.1" stroke="#ff0000" stroke-width="8.0" fill="none"/><path d="M1237.1 2818.3H1266.1M1251.6 2803.8V2832.8" stroke="#ff0000" stroke-width="8.0" fill="none"/><path d="M1268.3 2837.4H1297.3M1282.8 2822.9V2851.9" stroke="#ff0000" stroke-width="8.0" fill="none"/><path d="M1299.5 2876.9H1328.5M1314.0 2862.4V2891.4" stroke="#ff0000" stroke-width="8.0" fill="none"/><path d="M1330.7 2899.3H1359.7M1345.2 2884.8V2913.8" stroke="#ff0000" stroke-width="8.0" fill="none"/><path d="M1361.8 2898.1H1390.8M1376.3 2883.6V2912.6" stroke="#ff0000" stroke-width="8.0" fill="none"/><path d="M1393.0 2930.5H1422.0M1407.5 2916.0V2945.0" stroke="#ff0000" stroke-width="8.0" fill="none"/><path d="M1424.2 2934.3H1453.2M1438.7 2919.8V2948.8" stroke="#ff0000" stroke-width="8.0" fill="none"/><path d="M1455.3 2969.2H1484.3M1469.8 2954.7V2983.7" stroke="#ff0000" stroke-width="8.0" fill="none"/><path d="M1486.5 2984.5H1515.5M1501.0 2970.0V2999.0" stroke="#ff0000" stroke-width="8.0" fill="none"/><path d="M1517.7 3007.4H1546.7M1532.2 2992.9V3021.9" stroke="#ff0000" stroke-width="8.0" fill="none"/><path d="M1548.8 3017.3H1577.8M1563.3 3002.8V3031.8" stroke="#ff0000" stroke-width="8.0" fill="none"/><path d="M1580.0 3009.9H1609.0M1594.5 2995.4V3024.4" stroke="#ff0000" stroke-width="8.0" fill="none"/><path d="M1611.2 3027.0H1640.2M1625.7 3012.5V3041.5" stroke="#ff0000" stroke-width="8.0" fill="none"/><path d="M1642.4 3042.3H1671.4M1656.9 3027.8V3056.8" stroke="#ff0000" stroke-width="8.0" fill="none"/><path d="M1673.5 3039.0H1702.5M1688.0 3024.5V3053.5" stroke="#ff0000" stroke-width="8.0" fill="none"/><path d="M1704.7 3045.1H1733.7M1719.2 3030.6V3059.6" stroke="#ff0000" stroke-width="8.0" fill="none"/><path d="M1735.9 3046.9H1764.9M1750.4 3032.4V3061.4" stroke="#ff0000" stroke-width="8.0" fill="none"/><path d="M1767.0 3055.3H1796.0M1781.5 3040.8V3069.8" stroke="#ff0000" stroke-width="8.0" fill="none"/><path d="M1798.2 3060.9H1827.2M1812.7 3046.4V3075.4" stroke="#ff0000" stroke-width="8.0" fill="none"/><path d="M1829.4 3063.2H1858.4M1843.9 3048.7V3077.7" stroke="#ff0000" stroke-width="8.0" fill="none"/><path d="M1860.5 3066.0H1889.5M1875.0 3051.5V3080.5" stroke="#ff0000" stroke-width="8.0" fill="none"/><path d="M1891.7 3072.9H1920.7M1906.2 3058.4V3087.4" stroke="#ff0000" stroke-width="8.0" fill="none"/><path d="M1922.9 3075.5H1951.9M1937.4 3061.0V3090.0" stroke="#ff0000" stroke-width="8.0" fill="none"/><path d="M1954.1 3071.4H1983.1M1968.6 3056.9V3085.9" stroke="#ff0000" stroke-width="8.0" fill="none"/><path d="M1985.2 3077.3H2014.2M1999.7 3062.8V3091.8" stroke="#ff0000" stroke-width="8.0" fill="none"/><path d="M2016.4 3076.5H2045.4M2030.9 3062.0V3091.0" stroke="#ff0000" stroke-width="8.0" fill="none"/><path d="M2047.6 3086.2H2076.6M2062.1 3071.7V3100.7" stroke="#ff0000" stroke-width="8.0" fill="none"/><path d="M2078.7 3088.2H2107.7M2093.2 3073.7V3102.7" stroke="#ff0000" stroke-width="8.0" fill="none"/><path d="M2109.9 3086.2H2138.9M2124.4 3071.7V3100.7" stroke="#ff0000" stroke-width="8.0" fill="none"/><path d="M2141.1 3087.2H2170.1M2155.6 3072.7V3101.7" stroke="#ff0000" stroke-width="8.0" fill="none"/><path d="M2172.2 3085.4H2201.2M2186.7 3070.9V3099.9" stroke="#ff0000" stroke-width="8.0" fill="none"/><path d="M2203.4 3086.2H2232.4M2217.9 3071.7V3100.7" stroke="#ff0000" stroke-width="8.0" fill="none"/></g>
<g><path d="M364.9 2971.6L392.9 2999.6M364.9 2999.6L392.9 2971.6" stroke="#00ff00" stroke-width="8.0" fill="none"/><path d="M396.1 2756.2L424.1 2784.2M396.1 2784.2L424.1 2756.2" stroke="#00ff00" stroke-width="8.0" fill="none"/><path d="M427.2 2582.1L455.2 2610.1M427.2 2610.1L455.2 2582.1" stroke="#00ff00" stroke-width="8.0" fill="none"/><path d="M458.4 2426.1L486.4 2454.1M458.4 2454.1L486.4 2426.1" stroke="#00ff00" stroke-width="8.0" fill="none"/><path d="M489.6 2299.3L517.6 2327.3M489.6 2327.3L517.6 2299.3" stroke="#00ff00" stroke-width="8.0" fill="none"/><path d="M520.7 2235.6L548.7 2263.6M520.7 2263.6L548.7 2235.6" stroke="#00ff00" stroke-width="8.0" fill="none"/><path d="M551.9 2157.3L579.9 2185.3M551.9 2185.3L579.9 2157.3" stroke="#00ff00" stroke-width="8.0" fill="none"/><path d="M583.1 2132.3L611.1 2160.3M583.1 2160.3L611.1 2132.3" stroke="#00ff00" stroke-width="8.0" fill="none"/><path d="M614.2 2123.4L642.2 2151.4M614.2 2151.4L642.2 2123.4" stroke="#00ff00" stroke-width="8.0" fill="none"/><path d="M645.4 2113.2L673.4 2141.2M645.4 2141.2L673.4 2113.2" stroke="#00ff00" stroke-width="8.0" fill="none"/><path d="M676.6 2152.5L704.6 2180.5M676.6 2180.5L704.6 2152.5" stroke="#00ff00" stroke-width="8.0" fill="none"/><path d="M707.8 2191.2L735.8 2219.2M707.8 2219.2L735.8 2191.2" stroke="#00ff00" stroke-width="8.0" fill="none"/><path d="M738.9 2265.9L766.9 2293.9M738.9 2293.9L766.9 2265.9" stroke="#00ff00" stroke-width="8.0" fill="none"/><path d="M770.1 2333.5L798.1 2361.5M770.1 2361.5L798.1 2333.5" stroke="#00ff00" stroke-width="8.0" fill="none"/><path d="M801.3 2372.5L829.3 2400.5M801.3 2400.5L829.3 2372.5" stroke="#00ff00" stroke-width="8.0" fill="none"/><path d="M832.4 2455.9L860.4 2483.9M832.4 2483.9L860.4 2455.9" stroke="#00ff00" stroke-width="8.0" fill="none"/><path d="M863.6 2508.9L891.6 2536.9M863.6 2536.9L891.6 2508.9" stroke="#00ff00" stroke-width="8.0" fill="none"/><path d="M894.8 2550.2L922.8 2578.2M894.8 2578.2L922.8 2550.2" stroke="#00ff00" stroke-width="8.0" fill="none"/><path d="M925.9 2612.6L953.9 2640.6M925.9 2640.6L953.9 2612.6" stroke="#00ff00" stroke-width="8.0" fill="none"/><path d="M957.1 2655.1L985.1 2683.1M957.1 2683.1L985.1 2655.1" stroke="#00ff00" stroke-width="8.0" fill="none"/><path d="M988.3 2708.9L1016.3 2736.9M988.3 2736.9L1016.3 2708.9" stroke="#00ff00" stroke-width="8.0" fill="none"/><path d="M1019.5 2745.6L1047.5 2773.6M1019.5 2773.6L1047.5 2745.6" stroke="#00ff00" stroke-width="8.0" fill="none"/><path d="M1050.6 2787.7L1078.6 2815.7M1050.6 2815.7L1078.6 2787.7" stroke="#00ff00" stroke-width="8.0" fill="none"/><path d="M1081.8 2808.6L1109.8 2836.6M1081.8 2836.6L1109.8 2808.6" stroke="#00ff00" stroke-width="8.0" fill="none"/><path d="M1113.0 2848.9L1141.0 2876.9M1113.0 2876.9L1141.0 2848.9" stroke="#00ff00" stroke-width="8.0" fill="none"/><path d="M1144.1 2875.7L1172.1 2903.7M1144.1 2903.7L1172.1 2875.7" stroke="#00ff00" stroke-width="8.0" fill="none"/><path d="M1175.3 2903.7L1203.3 2931.7M1175.3 2931.7L1203.3 2903.7" stroke="#00ff00" stroke-width="8.0" fill="none"/><path d="M1206.5 2926.7L1234.5 2954.7M1206.5 2954.7L1234.5 2926.7" stroke="#00ff00" stroke-width="8.0" fill="none"/><path d="M1237.6 2945.8L1265.6 2973.8M1237.6 2973.8L1265.6 2945.8" stroke="#00ff00" stroke-width="8.0" fill="none"/><path d="M1268.8 2964.9L1296.8 2992.9M1268.8 2992.9L1296.8 2964.9" stroke="#00ff00" stroke-width="8.0" fill="none"/><path d="M1300.0 2982.2L1328.0 3010.2M1300.0 3010.2L1328.0 2982.2" stroke="#00ff00" stroke-width="8.0" fill="none"/><path d="M1331.2 2991.7L1359.2 3019.7M1331.2 3019.7L1359.2 2991.7" stroke="#00ff00" stroke-width="8.0" fill="none"/><path d="M1362.3 3005.7L1390.3 3033.7M1362.3 3033.7L1390.3 3005.7" stroke="#00ff00" stroke-width="8.0" fill="none"/><path d="M1393.5 3018.4L1421.5 3046.4M1393.5 3046.4L1421.5 3018.4" stroke="#00ff00" stroke-width="8.0" fill="none"/><path d="M1424.7 3019.7L1452.7 3047.7M1424.7 3047.7L1452.7 3019.7" stroke="#00ff00" stroke-width="8.0" fill="none"/><path d="M1455.8 3027.4L1483.8 3055.4M1455.8 3055.4L1483.8 3027.4" stroke="#00ff00" stroke-width="8.0" fill="none"/><path d="M1487.0 3035.0L1515.0 3063.0M1487.0 3063.0L1515.0 3035.0" stroke="#00ff00" stroke-width="8.0" fill="none"/><path d="M1518.2 3046.2L1546.2 3074.2M1518.2 3074.2L1546.2 3046.2" stroke="#00ff00" stroke-width="8.0" fill="none"/><path d="M1549.3 3050.0L1577.3 3078.0M1549.3 3078.0L1577.3 3050.0" stroke="#00ff00" stroke-width="8.0" fill="none"/><path d="M1580.5 3055.1L1608.5 3083.1M1580.5 3083.1L1608.5 3055.1" stroke="#00ff00" stroke-width="8.0" fill="none"/><path d="M1611.7 3060.2L1639.7 3088.2M1611.7 3088.2L1639.7 3060.2" stroke="#00ff00" stroke-width="8.0" fill="none"/><path d="M1642.9 3062.7L1670.9 3090.7M1642.9 3090.7L1670.9 3062.7" stroke="#00ff00" stroke-width="8.0" fill="none"/><path d="M1674.0 3066.6L1702.0 3094.6M1674.0 3094.6L1702.0 3066.6" stroke="#00ff00" stroke-width="8.0" fill="none"/><path d="M1705.2 3067.8L1733.2 3095.8M1705.2 3095.8L1733.2 3067.8" stroke="#00ff00" stroke-width="8.0" fill="none"/><path d="M1736.4 3069.4L1764.4 3097.4M1736.4 3097.4L1764.4 3069.4" stroke="#00ff00" stroke-width="8.0" fill="none"/><path d="M1767.5 3071.4L1795.5 3099.4M1767.5 3099.4L1795.5 3071.4" stroke="#00ff00" stroke-width="8.0" fill="none"/><path d="M1798.7 3072.9L1826.7 3100.9M1798.7 3100.9L1826.7 3072.9" stroke="#00ff00" stroke-width="8.0" fill="none"/><path d="M1829.9 3074.2L1857.9 3102.2M1829.9 3102.2L1857.9 3074.2" stroke="#00ff00" stroke-width="8.0" fill="none"/><path d="M1861.0 3075.0L1889.0 3103.0M1861.0 3103.0L1889.0 3075.0" stroke="#00ff00" stroke-width="8.0" fill="none"/><path d="M1892.2 3075.5L1920.2 3103.5M1892.2 3103.5L1920.2 3075.5" stroke="#00ff00" stroke-width="8.0" fill="none"/><path d="M1923.4 3076.3L1951.4 3104.3M1923.4 3104.3L1951.4 3076.3" stroke="#00ff00" stroke-width="8.0" fill="none"/><path d="M1954.6 3076.8L1982.6 3104.8M1954.6 3104.8L1982.6 3076.8" stroke="#00ff00" stroke-width="8.0" fill="none"/><path d="M1985.7 3077.3L2013.7 3105.3M1985.7 3105.3L2013.7 3077.3" stroke="#00ff00" stroke-width="8.0" fill="none"/><path d="M2016.9 3077.8L2044.9 3105.8M2016.9 3105.8L2044.9 3077.8" stroke="#00ff00" stroke-width="8.0" fill="none"/><path d="M2048.1 3078.0L2076.1 3106.0M2048.1 3106.0L2076.1 3078.0" stroke="#00ff00" stroke-width="8.0" fill="none"/><path d="M2079.2 3078.3L2107.2 3106.3M2079.2 3106.3L2107.2 3078.3" stroke="#00ff00" stroke-width="8.0" fill="none"/><path d="M2110.4 3078.5L2138.4 3106.5M2110.4 3106.5L2138.4 3078.5" stroke="#00ff00" stroke-width="8.0" fill="none"/><path d="M2141.6 3078.8L2169.6 3106.8M2141.6 3106.8L2169.6 3078.8" stroke="#00ff00" stroke-width="8.0" fill="none"/><path d="M2172.7 3078.8L2200.7 3106.8M2172.7 3106.8L2200.7 3078.8" stroke="#00ff00" stroke-width="8.0" fill="none"/><path d="M2203.9 3079.1L2231.9 3107.1M2203.9 3107.1L2231.9 3079.1" stroke="#00ff00" stroke-width="8.0" fill="none"/></g>
<g><path d="M364.4 2986.2H393.4M378.9 2971.7V3000.7M364.9 2972.2L392.9 3000.2M364.9 3000.2L392.9 2972.2" stroke="#0000ff" stroke-width="8.0" fill="none"/><path d="M395.6 2775.3H424.6M410.1 2760.8V2789.8M396.1 2761.3L424.1 2789.3M396.1 2789.3L424.1 2761.3" stroke="#0000ff" stroke-width="8.0" fill="none"/><path d="M426.7 2581.5H455.7M441.2 2567.0V2596.0M427.2 2567.5L455.2 2595.5M427.2 2595.5L455.2 2567.5" stroke="#0000ff" stroke-width="8.0" fill="none"/><path d="M457.9 2401.8H486.9M472.4 2387.3V2416.3M458.4 2387.8L486.4 2415.8M458.4 2415.8L486.4 2387.8" stroke="#0000ff" stroke-width="8.0" fill="none"/><path d="M489.1 2277.1H518.1M503.6 2262.6V2291.6M489.6 2263.1L517.6 2291.1M489.6 2291.1L517.6 2263.1" stroke="#0000ff" stroke-width="8.0" fill="none"/><path d="M520.2 2193.0H549.2M534.7 2178.5V2207.5M520.7 2179.0L548.7 2207.0M520.7 2207.0L548.7 2179.0" stroke="#0000ff" stroke-width="8.0" fill="none"/><path d="M551.4 2121.6H580.4M565.9 2107.1V2136.1M551.9 2107.6L579.9 2135.6M551.9 2135.6L579.9 2107.6" stroke="#0000ff" stroke-width="8.0" fill="none"/><path d="M582.6 2101.7H611.6M597.1 2087.2V2116.2M583.1 2087.7L611.1 2115.7M583.1 2115.7L611.1 2087.7" stroke="#0000ff" stroke-width="8.0" fill="none"/><path d="M613.7 2115.2H642.7M628.2 2100.7V2129.7M614.2 2101.2L642.2 2129.2M614.2 2129.2L642.2 2101.2" stroke="#0000ff" stroke-width="8.0" fill="none"/><path d="M644.9 2105.5H673.9M659.4 2091.0V2120.0M645.4 2091.5L673.4 2119.5M645.4 2119.5L673.4 2091.5" stroke="#0000ff" stroke-width="8.0" fill="none"/><path d="M676.1 2142.5H705.1M690.6 2128.0V2157.0M676.6 2128.5L704.6 2156.5M676.6 2156.5L704.6 2128.5" stroke="#0000ff" stroke-width="8.0" fill="none"/><path d="M707.3 2204.7H736.3M721.8 2190.2V2219.2M707.8 2190.7L735.8 2218.7M707.8 2218.7L735.8 2190.7" stroke="#0000ff" stroke-width="8.0" fill="none"/><path d="M738.4 2217.5H767.4M752.9 2203.0V2232.0M738.9 2203.5L766.9 2231.5M738.9 2231.5L766.9 2203.5" stroke="#0000ff" stroke-width="8.0" fill="none"/><path d="M769.6 2309.2H798.6M784.1 2294.7V2323.7M770.1 2295.2L798.1 2323.2M770.1 2323.2L798.1 2295.2" stroke="#0000ff" stroke-width="8.0" fill="none"/><path d="M800.8 2341.1H829.8M815.3 2326.6V2355.6M801.3 2327.1L829.3 2355.1M801.3 2355.1L829.3 2327.1" stroke="#0000ff" stroke-width="8.0" fill="none"/><path d="M831.9 2420.1H860.9M846.4 2405.6V2434.6M832.4 2406.1L860.4 2434.1M832.4 2434.1L860.4 2406.1" stroke="#0000ff" stroke-width="8.0" fill="none"/><path d="M863.1 2483.4H892.1M877.6 2468.9V2497.9M863.6 2469.4L891.6 2497.4M863.6 2497.4L891.6 2469.4" stroke="#0000ff" stroke-width="8.0" fill="none"/><path d="M894.3 2559.1H923.3M908.8 2544.6V2573.6M894.8 2545.1L922.8 2573.1M894.8 2573.1L922.8 2545.1" stroke="#0000ff" stroke-width="8.0" fill="none"/><path d="M925.4 2615.2H954.4M939.9 2600.7V2629.7M925.9 2601.2L953.9 2629.2M925.9 2629.2L953.9 2601.2" stroke="#0000ff" stroke-width="8.0" fill="none"/><path d="M956.6 2670.4H985.6M971.1 2655.9V2684.9M957.1 2656.4L985.1 2684.4M957.1 2684.4L985.1 2656.4" stroke="#0000ff" stroke-width="8.0" fill="none"/><path d="M987.8 2729.6H1016.8M1002.3 2715.1V2744.1M988.3 2715.6L1016.3 2743.6M988.3 2743.6L1016.3 2715.6" stroke="#0000ff" stroke-width="8.0" fill="none"/><path d="M1019.0 2763.5H1048.0M1033.5 2749.0V2778.0M1019.5 2749.5L1047.5 2777.5M1019.5 2777.5L1047.5 2749.5" stroke="#0000ff" stroke-width="8.0" fill="none"/><path d="M1050.1 2805.5H1079.1M1064.6 2791.0V2820.0M1050.6 2791.5L1078.6 2819.5M1050.6 2819.5L1078.6 2791.5" stroke="#0000ff" stroke-width="8.0" fill="none"/><path d="M1081.3 2859.6H1110.3M1095.8 2845.1V2874.1M1081.8 2845.6L1109.8 2873.6M1081.8 2873.6L1109.8 2845.6" stroke="#0000ff" stroke-width="8.0" fill="none"/><path d="M1112.5 2892.7H1141.5M1127.0 2878.2V2907.2M1113.0 2878.7L1141.0 2906.7M1113.0 2906.7L1141.0 2878.7" stroke="#0000ff" stroke-width="8.0" fill="none"/><path d="M1143.6 2925.4H1172.6M1158.1 2910.9V2939.9M1144.1 2911.4L1172.1 2939.4M1144.1 2939.4L1172.1 2911.4" stroke="#0000ff" stroke-width="8.0" fill="none"/><path d="M1174.8 2952.1H1203.8M1189.3 2937.6V2966.6M1175.3 2938.1L1203.3 2966.1M1175.3 2966.1L1203.3 2938.1" stroke="#0000ff" stroke-width="8.0" fill="none"/><path d="M1206.0 2966.7H1235.0M1220.5 2952.2V2981.2M1206.5 2952.7L1234.5 2980.7M1206.5 2980.7L1234.5 2952.7" stroke="#0000ff" stroke-width="8.0" fill="none"/><path d="M1237.1 2992.9H1266.1M1251.6 2978.4V3007.4M1237.6 2978.9L1265.6 3006.9M1237.6 3006.9L1265.6 2978.9" stroke="#0000ff" stroke-width="8.0" fill="none"/><path d="M1268.3 3013.3H1297.3M1282.8 2998.8V3027.8M1268.8 2999.3L1296.8 3027.3M1268.8 3027.3L1296.8 2999.3" stroke="#0000ff" stroke-width="8.0" fill="none"/><path d="M1299.5 3021.0H1328.5M1314.0 3006.5V3035.5M1300.0 3007.0L1328.0 3035.0M1300.0 3035.0L1328.0 3007.0" stroke="#0000ff" stroke-width="8.0" fill="none"/><path d="M1330.7 3042.6H1359.7M1345.2 3028.1V3057.1M1331.2 3028.6L1359.2 3056.6M1331.2 3056.6L1359.2 3028.6" stroke="#0000ff" stroke-width="8.0" fill="none"/><path d="M1361.8 3049.0H1390.8M1376.3 3034.5V3063.5M1362.3 3035.0L1390.3 3063.0M1362.3 3063.0L1390.3 3035.0" stroke="#0000ff" stroke-width="8.0" fill="none"/><path d="M1393.0 3055.4H1422.0M1407.5 3040.9V3069.9M1393.5 3041.4L1421.5 3069.4M1393.5 3069.4L1421.5 3041.4" stroke="#0000ff" stroke-width="8.0" fill="none"/><path d="M1424.2 3060.5H1453.2M1438.7 3046.0V3075.0M1424.7 3046.5L1452.7 3074.5M1424.7 3074.5L1452.7 3046.5" stroke="#0000ff" stroke-width="8.0" fill="none"/><path d="M1455.3 3065.6H1484.3M1469.8 3051.1V3080.1M1455.8 3051.6L1483.8 3079.6M1455.8 3079.6L1483.8 3051.6" stroke="#0000ff" stroke-width="8.0" fill="none"/><path d="M1486.5 3068.1H1515.5M1501.0 3053.6V3082.6M1487.0 3054.1L1515.0 3082.1M1487.0 3082.1L1515.0 3054.1" stroke="#0000ff" stroke-width="8.0" fill="none"/><path d="M1517.7 3078.0H1546.7M1532.2 3063.5V3092.5M1518.2 3064.0L1546.2 3092.0M1518.2 3092.0L1546.2 3064.0" stroke="#0000ff" stroke-width="8.0" fill="none"/><path d="M1548.8 3080.6H1577.8M1563.3 3066.1V3095.1M1549.3 3066.6L1577.3 3094.6M1549.3 3094.6L1577.3 3066.6" stroke="#0000ff" stroke-width="8.0" fill="none"/><path d="M1580.0 3083.1H1609.0M1594.5 3068.6V3097.6M1580.5 3069.1L1608.5 3097.1M1580.5 3097.1L1608.5 3069.1" stroke="#0000ff" stroke-width="8.0" fill="none"/><path d="M1611.2 3084.9H1640.2M1625.7 3070.4V3099.4M1611.7 3070.9L1639.7 3098.9M1611.7 3098.9L1639.7 3070.9" stroke="#0000ff" stroke-width="8.0" fill="none"/><path d="M1642.4 3086.4H1671.4M1656.9 3071.9V3100.9M1642.9 3072.4L1670.9 3100.4M1642.9 3100.4L1670.9 3072.4" stroke="#0000ff" stroke-width="8.0" fill="none"/><path d="M1673.5 3087.7H1702.5M1688.0 3073.2V3102.2M1674.0 3073.7L1702.0 3101.7M1674.0 3101.7L1702.0 3073.7" stroke="#0000ff" stroke-width="8.0" fill="none"/><path d="M1704.7 3088.7H1733.7M1719.2 3074.2V3103.2M1705.2 3074.7L1733.2 3102.7M1705.2 3102.7L1733.2 3074.7" stroke="#0000ff" stroke-width="8.0" fill="none"/><path d="M1735.9 3089.5H1764.9M1750.4 3075.0V3104.0M1736.4 3075.5L1764.4 3103.5M1736.4 3103.5L1764.4 3075.5" stroke="#0000ff" stroke-width="8.0" fill="none"/><path d="M1767.0 3090.3H1796.0M1781.5 3075.8V3104.8M1767.5 3076.3L1795.5 3104.3M1767.5 3104.3L1795.5 3076.3" stroke="#0000ff" stroke-width="8.0" fill="none"/><path d="M1798.2 3090.8H1827.2M1812.7 3076.3V3105.3M1798.7 3076.8L1826.7 3104.8M1798.7 3104.8L1826.7 3076.8" stroke="#0000ff" stroke-width="8.0" fill="none"/><path d="M1829.4 3091.3H1858.4M1843.9 3076.8V3105.8M1829.9 3077.3L1857.9 3105.3M1829.9 3105.3L1857.9 3077.3" stroke="#0000ff" stroke-width="8.0" fill="none"/><path d="M1860.5 3091.8H1889.5M1875.0 3077.3V3106.3M1861.0 3077.8L1889.0 3105.8M1861.0 3105.8L1889.0 3077.8" stroke="#0000ff" stroke-width="8.0" fill="none"/><path d="M1891.7 3092.0H1920.7M1906.2 3077.5V3106.5M1892.2 3078.0L1920.2 3106.0M1892.2 3106.0L1920.2 3078.0" stroke="#0000ff" stroke-width="8.0" fill="none"/><path d="M1922.9 3092.3H1951.9M1937.4 3077.8V3106.8M1923.4 3078.3L1951.4 3106.3M1923.4 3106.3L1951.4 3078.3" stroke="#0000ff" stroke-width="8.0" fill="none"/><path d="M1954.1 3092.5H1983.1M1968.6 3078.0V3107.0M1954.6 3078.5L1982.6 3106.5M1954.6 3106.5L1982.6 3078.5" stroke="#0000ff" stroke-width="8.0" fill="none"/><path d="M1985.2 3092.5H2014.2M1999.7 3078.0V3107.0M1985.7 3078.5L2013.7 3106.5M1985.7 3106.5L2013.7 3078.5" stroke="#0000ff" stroke-width="8.0" fill="none"/><path d="M2016.4 3092.8H2045.4M2030.9 3078.3V3107.3M2016.9 3078.8L2044.9 3106.8M2016.9 3106.8L2044.9 3078.8" stroke="#0000ff" stroke-width="8.0" fill="none"/><path d="M2047.6 3092.8H2076.6M2062.1 3078.3V3107.3M2048.1 3078.8L2076.1 3106.8M2048.1 3106.8L2076.1 3078.8" stroke="#0000ff" stroke-width="8.0" fill="none"/><path d="M2078.7 3093.1H2107.7M2093.2 3078.6V3107.6M2079.2 3079.1L2107.2 3107.1M2079.2 3107.1L2107.2 3079.1" stroke="#0000ff" stroke-width="8.0" fill="none"/><path d="M2109.9 3093.1H2138.9M2124.4 3078.6V3107.6M2110.4 3079.1L2138.4 3107.1M2110.4 3107.1L2138.4 3079.1" stroke="#0000ff" stroke-width="8.0" fill="none"/><path d="M2141.1 3093.3H2170.1M2155.6 3078.8V3107.8M2141.6 3079.3L2169.6 3107.3M2141.6 3107.3L2169.6 3079.3" stroke="#0000ff" stroke-width="8.0" fill="none"/><path d="M2172.2 3093.3H2201.2M2186.7 3078.8V3107.8M2172.7 3079.3L2200.7 3107.3M2172.7 3107.3L2200.7 3079.3" stroke="#0000ff" stroke-width="8.0" fill="none"/><path d="M2203.4 3093.3H2232.4M2217.9 3078.8V3107.8M2203.9 3079.3L2231.9 3107.3M2203.9 3107.3L2231.9 3079.3" stroke="#0000ff" stroke-width="8.0" fill="none"/></g>
<g><rect x="365.1" y="2934.6" width="27.5" height="27.5" stroke="#ff00ff" stroke-width="7.5" fill="none"/><circle cx="378.9" cy="2948.3" r="4" fill="#ff00ff"/><rect x="396.3" y="2680.0" width="27.5" height="27.5" stroke="#ff00ff" stroke-width="7.5" fill="none"/><circle cx="410.1" cy="2693.7" r="4" fill="#ff00ff"/><rect x="427.5" y="2462.0" width="27.5" height="27.5" stroke="#ff00ff" stroke-width="7.5" fill="none"/><circle cx="441.2" cy="2475.7" r="4" fill="#ff00ff"/><rect x="458.6" y="2281.2" width="27.5" height="27.5" stroke="#ff00ff" stroke-width="7.5" fill="none"/><circle cx="472.4" cy="2295.0" r="4" fill="#ff00ff"/><rect x="489.8" y="2136.7" width="27.5" height="27.5" stroke="#ff00ff" stroke-width="7.5" fill="none"/><circle cx="503.6" cy="2150.4" r="4" fill="#ff00ff"/><rect x="521.0" y="2057.4" width="27.5" height="27.5" stroke="#ff00ff" stroke-width="7.5" fill="none"/><circle cx="534.7" cy="2071.1" r="4" fill="#ff00ff"/><rect x="552.2" y="2010.2" width="27.5" height="27.5" stroke="#ff00ff" stroke-width="7.5" fill="none"/><circle cx="565.9" cy="2024.0" r="4" fill="#ff00ff"/><rect x="583.3" y="2012.8" width="27.5" height="27.5" stroke="#ff00ff" stroke-width="7.5" fill="none"/><circle cx="597.1" cy="2026.5" r="4" fill="#ff00ff"/><rect x="614.5" y="2021.2" width="27.5" height="27.5" stroke="#ff00ff" stroke-width="7.5" fill="none"/><circle cx="628.2" cy="2034.9" r="4" fill="#ff00ff"/><rect x="645.7" y="2054.8" width="27.5" height="27.5" stroke="#ff00ff" stroke-width="7.5" fill="none"/><circle cx="659.4" cy="2068.6" r="4" fill="#ff00ff"/><rect x="676.8" y="2130.0" width="27.5" height="27.5" stroke="#ff00ff" stroke-width="7.5" fill="none"/><circle cx="690.6" cy="2143.8" r="4" fill="#ff00ff"/><rect x="708.0" y="2191.7" width="27.5" height="27.5" stroke="#ff00ff" stroke-width="7.5" fill="none"/><circle cx="721.8" cy="2205.5" r="4" fill="#ff00ff"/><rect x="739.2" y="2264.4" width="27.5" height="27.5" stroke="#ff00ff" stroke-width="7.5" fill="none"/><circle cx="752.9" cy="2278.1" r="4" fill="#ff00ff"/><rect x="770.3" y="2333.7" width="27.5" height="27.5" stroke="#ff00ff" stroke-width="7.5" fill="none"/><circle cx="784.1" cy="2347.5" r="4" fill="#ff00ff"/><rect x="801.5" y="2395.4" width="27.5" height="27.5" stroke="#ff00ff" stroke-width="7.5" fill="none"/><circle cx="815.3" cy="2409.2" r="4" fill="#ff00ff"/><rect x="832.7" y="2463.2" width="27.5" height="27.5" stroke="#ff00ff" stroke-width="7.5" fill="none"/><circle cx="846.4" cy="2477.0" r="4" fill="#ff00ff"/><rect x="863.9" y="2526.5" width="27.5" height="27.5" stroke="#ff00ff" stroke-width="7.5" fill="none"/><circle cx="877.6" cy="2540.2" r="4" fill="#ff00ff"/><rect x="895.0" y="2590.2" width="27.5" height="27.5" stroke="#ff00ff" stroke-width="7.5" fill="none"/><circle cx="908.8" cy="2604.0" r="4" fill="#ff00ff"/><rect x="926.2" y="2648.6" width="27.5" height="27.5" stroke="#ff00ff" stroke-width="7.5" fill="none"/><circle cx="939.9" cy="2662.3" r="4" fill="#ff00ff"/><rect x="957.4" y="2714.5" width="27.5" height="27.5" stroke="#ff00ff" stroke-width="7.5" fill="none"/><circle cx="971.1" cy="2728.3" r="4" fill="#ff00ff"/><rect x="988.5" y="2755.3" width="27.5" height="27.5" stroke="#ff00ff" stroke-width="7.5" fill="none"/><circle cx="1002.3" cy="2769.1" r="4" fill="#ff00ff"/><rect x="1019.7" y="2797.9" width="27.5" height="27.5" stroke="#ff00ff" stroke-width="7.5" fill="none"/><circle cx="1033.5" cy="2811.7" r="4" fill="#ff00ff"/><rect x="1050.9" y="2842.0" width="27.5" height="27.5" stroke="#ff00ff" stroke-width="7.5" fill="none"/><circle cx="1064.6" cy="2855.8" r="4" fill="#ff00ff"/><rect x="1082.0" y="2882.8" width="27.5" height="27.5" stroke="#ff00ff" stroke-width="7.5" fill="none"/><circle cx="1095.8" cy="2896.5" r="4" fill="#ff00ff"/><rect x="1113.2" y="2909.3" width="27.5" height="27.5" stroke="#ff00ff" stroke-width="7.5" fill="none"/><circle cx="1127.0" cy="2923.1" r="4" fill="#ff00ff"/><rect x="1144.4" y="2940.9" width="27.5" height="27.5" stroke="#ff00ff" stroke-width="7.5" fill="none"/><circle cx="1158.1" cy="2954.7" r="4" fill="#ff00ff"/><rect x="1175.6" y="2958.3" width="27.5" height="27.5" stroke="#ff00ff" stroke-width="7.5" fill="none"/><circle cx="1189.3" cy="2972.0" r="4" fill="#ff00ff"/><rect x="1206.7" y="2983.8" width="27.5" height="27.5" stroke="#ff00ff" stroke-width="7.5" fill="none"/><circle cx="1220.5" cy="2997.5" r="4" fill="#ff00ff"/><rect x="1237.9" y="3004.1" width="27.5" height="27.5" stroke="#ff00ff" stroke-width="7.5" fill="none"/><circle cx="1251.6" cy="3017.9" r="4" fill="#ff00ff"/><rect x="1269.1" y="3019.4" width="27.5" height="27.5" stroke="#ff00ff" stroke-width="7.5" fill="none"/><circle cx="1282.8" cy="3033.2" r="4" fill="#ff00ff"/><rect x="1300.2" y="3027.1" width="27.5" height="27.5" stroke="#ff00ff" stroke-width="7.5" fill="none"/><circle cx="1314.0" cy="3040.8" r="4" fill="#ff00ff"/><rect x="1331.4" y="3038.6" width="27.5" height="27.5" stroke="#ff00ff" stroke-width="7.5" fill="none"/><circle cx="1345.2" cy="3052.3" r="4" fill="#ff00ff"/><rect x="1362.6" y="3044.9" width="27.5" height="27.5" stroke="#ff00ff" stroke-width="7.5" fill="none"/><circle cx="1376.3" cy="3058.7" r="4" fill="#ff00ff"/><rect x="1393.7" y="3051.3" width="27.5" height="27.5" stroke="#ff00ff" stroke-width="7.5" fill="none"/><circle cx="1407.5" cy="3065.1" r="4" fill="#ff00ff"/><rect x="1424.9" y="3055.1" width="27.5" height="27.5" stroke="#ff00ff" stroke-width="7.5" fill="none"/><circle cx="1438.7" cy="3068.9" r="4" fill="#ff00ff"/><rect x="1456.1" y="3059.0" width="27.5" height="27.5" stroke="#ff00ff" stroke-width="7.5" fill="none"/><circle cx="1469.8" cy="3072.7" r="4" fill="#ff00ff"/><rect x="1487.3" y="3061.5" width="27.5" height="27.5" stroke="#ff00ff" stroke-width="7.5" fill="none"/><circle cx="1501.0" cy="3075.3" r="4" fill="#ff00ff"/><rect x="1518.4" y="3065.0" width="27.5" height="27.5" stroke="#ff00ff" stroke-width="7.5" fill="none"/><circle cx="1532.2" cy="3078.8" r="4" fill="#ff00ff"/><rect x="1549.6" y="3067.1" width="27.5" height="27.5" stroke="#ff00ff" stroke-width="7.5" fill="none"/><circle cx="1563.3" cy="3080.8" r="4" fill="#ff00ff"/><rect x="1580.8" y="3069.1" width="27.5" height="27.5" stroke="#ff00ff" stroke-width="7.5" fill="none"/><circle cx="1594.5" cy="3082.9" r="4" fill="#ff00ff"/><rect x="1611.9" y="3070.9" width="27.5" height="27.5" stroke="#ff00ff" stroke-width="7.5" fill="none"/><circle cx="1625.7" cy="3084.6" r="4" fill="#ff00ff"/><rect x="1643.1" y="3072.7" width="27.5" height="27.5" stroke="#ff00ff" stroke-width="7.5" fill="none"/><circle cx="1656.9" cy="3086.4" r="4" fill="#ff00ff"/><rect x="1674.3" y="3074.0" width="27.5" height="27.5" stroke="#ff00ff" stroke-width="7.5" fill="none"/><circle cx="1688.0" cy="3087.7" r="4" fill="#ff00ff"/><rect x="1705.4" y="3075.2" width="27.5" height="27.5" stroke="#ff00ff" stroke-width="7.5" fill="none"/><circle cx="1719.2" cy="3089.0" r="4" fill="#ff00ff"/><rect x="1736.6" y="3076.2" width="27.5" height="27.5" stroke="#ff00ff" stroke-width="7.5" fill="none"/><circle cx="1750.4" cy="3090.0" r="4" fill="#ff00ff"/><rect x="1767.8" y="3077.3" width="27.5" height="27.5" stroke="#ff00ff" stroke-width="7.5" fill="none"/><circle cx="1781.5" cy="3091.0" r="4" fill="#ff00ff"/><rect x="1799.0" y="3078.0" width="27.5" height="27.5" stroke="#ff00ff" stroke-width="7.5" fill="none"/><circle cx="1812.7" cy="3091.8" r="4" fill="#ff00ff"/><rect x="1830.1" y="3078.5" width="27.5" height="27.5" stroke="#ff00ff" stroke-width="7.5" fill="none"/><circle cx="1843.9" cy="3092.3" r="4" fill="#ff00ff"/><rect x="1861.3" y="3078.8" width="27.5" height="27.5" stroke="#ff00ff" stroke-width="7.5" fill="none"/><circle cx="1875.0" cy="3092.5" r="4" fill="#ff00ff"/><rect x="1892.5" y="3079.1" width="27.5" height="27.5" stroke="#ff00ff" stroke-width="7.5" fill="none"/><circle cx="1906.2" cy="3092.8" r="4" fill="#ff00ff"/><rect x="1923.6" y="3079.3" width="27.5" height="27.5" stroke="#ff00ff" stroke-width="7.5" fill="none"/><circle cx="1937.4" cy="3093.1" r="4" fill="#ff00ff"/><rect x="1954.8" y="3079.6" width="27.5" height="27.5" stroke="#ff00ff" stroke-width="7.5" fill="none"/><circle cx="1968.6" cy="3093.3" r="4" fill="#ff00ff"/><rect x="1986.0" y="3079.8" width="27.5" height="27.5" stroke="#ff00ff" stroke-width="7.5" fill="none"/><circle cx="1999.7" cy="3093.6" r="4" fill="#ff00ff"/><rect x="2017.1" y="3079.8" width="27.5" height="27.5" stroke="#ff00ff" stroke-width="7.5" fill="none"/><circle cx="2030.9" cy="3093.6" r="4" fill="#ff00ff"/><rect x="2048.3" y="3079.8" width="27.5" height="27.5" stroke="#ff00ff" stroke-width="7.5" fill="none"/><circle cx="2062.1" cy="3093.6" r="4" fill="#ff00ff"/><rect x="2079.5" y="3079.8" width="27.5" height="27.5" stroke="#ff00ff" stroke-width="7.5" fill="none"/><circle cx="2093.2" cy="3093.6" r="4" fill="#ff00ff"/><rect x="2110.7" y="3079.8" width="27.5" height="27.5" stroke="#ff00ff" stroke-width="7.5" fill="none"/><circle cx="2124.4" cy="3093.6" r="4" fill="#ff00ff"/><rect x="2141.8" y="3079.8" width="27.5" height="27.5" stroke="#ff00ff" stroke-width="7.5" fill="none"/><circle cx="2155.6" cy="3093.6" r="4" fill="#ff00ff"/><rect x="2173.0" y="3079.8" width="27.5" height="27.5" stroke="#ff00ff" stroke-width="7.5" fill="none"/><circle cx="2186.7" cy="3093.6" r="4" fill="#ff00ff"/><rect x="2204.2" y="3079.8" width="27.5" height="27.5" stroke="#ff00ff" stroke-width="7.5" fill="none"/><circle cx="2217.9" cy="3093.6" r="4" fill="#ff00ff"/></g>
<g><rect x="364.4" y="2931.7" width="29.0" height="29.0" fill="#00ffff"/><rect x="395.6" y="2677.7" width="29.0" height="29.0" fill="#00ffff"/><rect x="426.7" y="2452.3" width="29.0" height="29.0" fill="#00ffff"/><rect x="457.9" y="2259.3" width="29.0" height="29.0" fill="#00ffff"/><rect x="489.1" y="2143.8" width="29.0" height="29.0" fill="#00ffff"/><rect x="520.2" y="2036.2" width="29.0" height="29.0" fill="#00ffff"/><rect x="551.4" y="2008.2" width="29.0" height="29.0" fill="#00ffff"/><rect x="582.6" y="2020.7" width="29.0" height="29.0" fill="#00ffff"/><rect x="613.7" y="2042.3" width="29.0" height="29.0" fill="#00ffff"/><rect x="644.9" y="2089.0" width="29.0" height="29.0" fill="#00ffff"/><rect x="676.1" y="2141.8" width="29.0" height="29.0" fill="#00ffff"/><rect x="707.3" y="2189.2" width="29.0" height="29.0" fill="#00ffff"/><rect x="738.4" y="2238.7" width="29.0" height="29.0" fill="#00ffff"/><rect x="769.6" y="2304.9" width="29.0" height="29.0" fill="#00ffff"/><rect x="800.8" y="2374.8" width="29.0" height="29.0" fill="#00ffff"/><rect x="831.9" y="2445.7" width="29.0" height="29.0" fill="#00ffff"/><rect x="863.1" y="2517.8" width="29.0" height="29.0" fill="#00ffff"/><rect x="894.3" y="2572.6" width="29.0" height="29.0" fill="#00ffff"/><rect x="925.4" y="2623.6" width="29.0" height="29.0" fill="#00ffff"/><rect x="956.6" y="2695.4" width="29.0" height="29.0" fill="#00ffff"/><rect x="987.8" y="2750.2" width="29.0" height="29.0" fill="#00ffff"/><rect x="1019.0" y="2793.6" width="29.0" height="29.0" fill="#00ffff"/><rect x="1050.1" y="2837.2" width="29.0" height="29.0" fill="#00ffff"/><rect x="1081.3" y="2876.4" width="29.0" height="29.0" fill="#00ffff"/><rect x="1112.5" y="2919.5" width="29.0" height="29.0" fill="#00ffff"/><rect x="1143.6" y="2952.9" width="29.0" height="29.0" fill="#00ffff"/><rect x="1174.8" y="2975.9" width="29.0" height="29.0" fill="#00ffff"/><rect x="1206.0" y="2991.2" width="29.0" height="29.0" fill="#00ffff"/><rect x="1237.1" y="3009.0" width="29.0" height="29.0" fill="#00ffff"/><rect x="1268.3" y="3024.3" width="29.0" height="29.0" fill="#00ffff"/><rect x="1299.5" y="3034.5" width="29.0" height="29.0" fill="#00ffff"/><rect x="1330.7" y="3043.4" width="29.0" height="29.0" fill="#00ffff"/><rect x="1361.8" y="3049.8" width="29.0" height="29.0" fill="#00ffff"/><rect x="1393.0" y="3054.9" width="29.0" height="29.0" fill="#00ffff"/><rect x="1424.2" y="3058.7" width="29.0" height="29.0" fill="#00ffff"/><rect x="1455.3" y="3062.5" width="29.0" height="29.0" fill="#00ffff"/><rect x="1486.5" y="3065.1" width="29.0" height="29.0" fill="#00ffff"/><rect x="1517.7" y="3068.6" width="29.0" height="29.0" fill="#00ffff"/><rect x="1548.8" y="3070.4" width="29.0" height="29.0" fill="#00ffff"/><rect x="1580.0" y="3071.9" width="29.0" height="29.0" fill="#00ffff"/><rect x="1611.2" y="3073.2" width="29.0" height="29.0" fill="#00ffff"/><rect x="1642.4" y="3074.5" width="29.0" height="29.0" fill="#00ffff"/><rect x="1673.5" y="3075.5" width="29.0" height="29.0" fill="#00ffff"/><rect x="1704.7" y="3076.3" width="29.0" height="29.0" fill="#00ffff"/><rect x="1735.9" y="3077.0" width="29.0" height="29.0" fill="#00ffff"/><rect x="1767.0" y="3077.5" width="29.0" height="29.0" fill="#00ffff"/><rect x="1798.2" y="3078.0" width="29.0" height="29.0" fill="#00ffff"/><rect x="1829.4" y="3078.6" width="29.0" height="29.0" fill="#00ffff"/><rect x="1860.5" y="3078.8" width="29.0" height="29.0" fill="#00ffff"/><rect x="1891.7" y="3079.1" width="29.0" height="29.0" fill="#00ffff"/><rect x="1922.9" y="3079.3" width="29.0" height="29.0" fill="#00ffff"/><rect x="1954.1" y="3079.3" width="29.0" height="29.0" fill="#00ffff"/><rect x="1985.2" y="3079.3" width="29.0" height="29.0" fill="#00ffff"/><rect x="2016.4" y="3079.3" width="29.0" height="29.0" fill="#00ffff"/><rect x="2047.6" y="3079.3" width="29.0" height="29.0" fill="#00ffff"/><rect x="2078.7" y="3079.3" width="29.0" height="29.0" fill="#00ffff"/><rect x="2109.9" y="3079.3" width="29.0" height="29.0" fill="#00ffff"/><rect x="2141.1" y="3079.3" width="29.0" height="29.0" fill="#00ffff"/><rect x="2172.2" y="3079.3" width="29.0" height="29.0" fill="#00ffff"/><rect x="2203.4" y="3079.3" width="29.0" height="29.0" fill="#00ffff"/></g>
<g><circle cx="378.9" cy="2933.3" r="13.8" stroke="#ffff00" stroke-width="7.5" fill="none"/><circle cx="378.9" cy="2933.3" r="4" fill="#ffff00"/><circle cx="410.1" cy="2621.8" r="13.8" stroke="#ffff00" stroke-width="7.5" fill="none"/><circle cx="410.1" cy="2621.8" r="4" fill="#ffff00"/><circle cx="441.2" cy="2329.9" r="13.8" stroke="#ffff00" stroke-width="7.5" fill="none"/><circle cx="441.2" cy="2329.9" r="4" fill="#ffff00"/><circle cx="472.4" cy="2102.2" r="13.8" stroke="#ffff00" stroke-width="7.5" fill="none"/><circle cx="472.4" cy="2102.2" r="4" fill="#ffff00"/><circle cx="503.6" cy="1967.1" r="13.8" stroke="#ffff00" stroke-width="7.5" fill="none"/><circle cx="503.6" cy="1967.1" r="4" fill="#ffff00"/><circle cx="534.7" cy="1849.8" r="13.8" stroke="#ffff00" stroke-width="7.5" fill="none"/><circle cx="534.7" cy="1849.8" r="4" fill="#ffff00"/><circle cx="565.9" cy="1857.0" r="13.8" stroke="#ffff00" stroke-width="7.5" fill="none"/><circle cx="565.9" cy="1857.0" r="4" fill="#ffff00"/><circle cx="597.1" cy="1887.6" r="13.8" stroke="#ffff00" stroke-width="7.5" fill="none"/><circle cx="597.1" cy="1887.6" r="4" fill="#ffff00"/><circle cx="628.2" cy="1951.3" r="13.8" stroke="#ffff00" stroke-width="7.5" fill="none"/><circle cx="628.2" cy="1951.3" r="4" fill="#ffff00"/><circle cx="659.4" cy="1994.6" r="13.8" stroke="#ffff00" stroke-width="7.5" fill="none"/><circle cx="659.4" cy="1994.6" r="4" fill="#ffff00"/><circle cx="690.6" cy="2096.6" r="13.8" stroke="#ffff00" stroke-width="7.5" fill="none"/><circle cx="690.6" cy="2096.6" r="4" fill="#ffff00"/><circle cx="721.8" cy="2188.4" r="13.8" stroke="#ffff00" stroke-width="7.5" fill="none"/><circle cx="721.8" cy="2188.4" r="4" fill="#ffff00"/><circle cx="752.9" cy="2280.7" r="13.8" stroke="#ffff00" stroke-width="7.5" fill="none"/><circle cx="752.9" cy="2280.7" r="4" fill="#ffff00"/><circle cx="784.1" cy="2409.9" r="13.8" stroke="#ffff00" stroke-width="7.5" fill="none"/><circle cx="784.1" cy="2409.9" r="4" fill="#ffff00"/><circle cx="815.3" cy="2466.0" r="13.8" stroke="#ffff00" stroke-width="7.5" fill="none"/><circle cx="815.3" cy="2466.0" r="4" fill="#ffff00"/><circle cx="846.4" cy="2561.1" r="13.8" stroke="#ffff00" stroke-width="7.5" fill="none"/><circle cx="846.4" cy="2561.1" r="4" fill="#ffff00"/><circle cx="877.6" cy="2640.7" r="13.8" stroke="#ffff00" stroke-width="7.5" fill="none"/><circle cx="877.6" cy="2640.7" r="4" fill="#ffff00"/><circle cx="908.8" cy="2716.3" r="13.8" stroke="#ffff00" stroke-width="7.5" fill="none"/><circle cx="908.8" cy="2716.3" r="4" fill="#ffff00"/><circle cx="939.9" cy="2768.6" r="13.8" stroke="#ffff00" stroke-width="7.5" fill="none"/><circle cx="939.9" cy="2768.6" r="4" fill="#ffff00"/><circle cx="971.1" cy="2829.2" r="13.8" stroke="#ffff00" stroke-width="7.5" fill="none"/><circle cx="971.1" cy="2829.2" r="4" fill="#ffff00"/><circle cx="1002.3" cy="2859.1" r="13.8" stroke="#ffff00" stroke-width="7.5" fill="none"/><circle cx="1002.3" cy="2859.1" r="4" fill="#ffff00"/><circle cx="1033.5" cy="2896.8" r="13.8" stroke="#ffff00" stroke-width="7.5" fill="none"/><circle cx="1033.5" cy="2896.8" r="4" fill="#ffff00"/><circle cx="1064.6" cy="2928.7" r="13.8" stroke="#ffff00" stroke-width="7.5" fill="none"/><circle cx="1064.6" cy="2928.7" r="4" fill="#ffff00"/><circle cx="1095.8" cy="2958.5" r="13.8" stroke="#ffff00" stroke-width="7.5" fill="none"/><circle cx="1095.8" cy="2958.5" r="4" fill="#ffff00"/><circle cx="1127.0" cy="2985.3" r="13.8" stroke="#ffff00" stroke-width="7.5" fill="none"/><circle cx="1127.0" cy="2985.3" r="4" fill="#ffff00"/><circle cx="1158.1" cy="3004.4" r="13.8" stroke="#ffff00" stroke-width="7.5" fill="none"/><circle cx="1158.1" cy="3004.4" r="4" fill="#ffff00"/><circle cx="1189.3" cy="3031.2" r="13.8" stroke="#ffff00" stroke-width="7.5" fill="none"/><circle cx="1189.3" cy="3031.2" r="4" fill="#ffff00"/><circle cx="1220.5" cy="3037.5" r="13.8" stroke="#ffff00" stroke-width="7.5" fill="none"/><circle cx="1220.5" cy="3037.5" r="4" fill="#ffff00"/><circle cx="1251.6" cy="3051.5" r="13.8" stroke="#ffff00" stroke-width="7.5" fill="none"/><circle cx="1251.6" cy="3051.5" r="4" fill="#ffff00"/><circle cx="1282.8" cy="3058.4" r="13.8" stroke="#ffff00" stroke-width="7.5" fill="none"/><circle cx="1282.8" cy="3058.4" r="4" fill="#ffff00"/><circle cx="1314.0" cy="3068.1" r="13.8" stroke="#ffff00" stroke-width="7.5" fill="none"/><circle cx="1314.0" cy="3068.1" r="4" fill="#ffff00"/><circle cx="1345.2" cy="3073.2" r="13.8" stroke="#ffff00" stroke-width="7.5" fill="none"/><circle cx="1345.2" cy="3073.2" r="4" fill="#ffff00"/><circle cx="1376.3" cy="3078.3" r="13.8" stroke="#ffff00" stroke-width="7.5" fill="none"/><circle cx="1376.3" cy="3078.3" r="4" fill="#ffff00"/><circle cx="1407.5" cy="3082.1" r="13.8" stroke="#ffff00" stroke-width="7.5" fill="none"/><circle cx="1407.5" cy="3082.1" r="4" fill="#ffff00"/><circle cx="1438.7" cy="3086.0" r="13.8" stroke="#ffff00" stroke-width="7.5" fill="none"/><circle cx="1438.7" cy="3086.0" r="4" fill="#ffff00"/><circle cx="1469.8" cy="3088.0" r="13.8" stroke="#ffff00" stroke-width="7.5" fill="none"/><circle cx="1469.8" cy="3088.0" r="4" fill="#ffff00"/><circle cx="1501.0" cy="3089.3" r="13.8" stroke="#ffff00" stroke-width="7.5" fill="none"/><circle cx="1501.0" cy="3089.3" r="4" fill="#ffff00"/><circle cx="1532.2" cy="3089.5" r="13.8" stroke="#ffff00" stroke-width="7.5" fill="none"/><circle cx="1532.2" cy="3089.5" r="4" fill="#ffff00"/><circle cx="1563.3" cy="3090.5" r="13.8" stroke="#ffff00" stroke-width="7.5" fill="none"/><circle cx="1563.3" cy="3090.5" r="4" fill="#ffff00"/><circle cx="1594.5" cy="3091.3" r="13.8" stroke="#ffff00" stroke-width="7.5" fill="none"/><circle cx="1594.5" cy="3091.3" r="4" fill="#ffff00"/><circle cx="1625.7" cy="3091.8" r="13.8" stroke="#ffff00" stroke-width="7.5" fill="none"/><circle cx="1625.7" cy="3091.8" r="4" fill="#ffff00"/><circle cx="1656.9" cy="3092.3" r="13.8" stroke="#ffff00" stroke-width="7.5" fill="none"/><circle cx="1656.9" cy="3092.3" r="4" fill="#ffff00"/><circle cx="1688.0" cy="3092.5" r="13.8" stroke="#ffff00" stroke-width="7.5" fill="none"/><circle cx="1688.0" cy="3092.5" r="4" fill="#ffff00"/><circle cx="1719.2" cy="3092.8" r="13.8" stroke="#ffff00" stroke-width="7.5" fill="none"/><circle cx="1719.2" cy="3092.8" r="4" fill="#ffff00"/><circle cx="1750.4" cy="3093.1" r="13.8" stroke="#ffff00" stroke-width="7.5" fill="none"/><circle cx="1750.4" cy="3093.1" r="4" fill="#ffff00"/><circle cx="1781.5" cy="3093.1" r="13.8" stroke="#ffff00" stroke-width="7.5" fill="none"/><circle cx="1781.5" cy="3093.1" r="4" fill="#ffff00"/><circle cx="1812.7" cy="3093.3" r="13.8" stroke="#ffff00" stroke-width="7.5" fill="none"/><circle cx="1812.7" cy="3093.3" r="4" fill="#ffff00"/><circle cx="1843.9" cy="3093.3" r="13.8" stroke="#ffff00" stroke-width="7.5" fill="none"/><circle cx="1843.9" cy="3093.3" r="4" fill="#ffff00"/><circle cx="1875.0" cy="3093.3" r="13.8" stroke="#ffff00" stroke-width="7.5" fill="none"/><circle cx="1875.0" cy="3093.3" r="4" fill="#ffff00"/><circle cx="1906.2" cy="3093.6" r="13.8" stroke="#ffff00" stroke-width="7.5" fill="none"/><circle cx="1906.2" cy="3093.6" r="4" fill="#ffff00"/><circle cx="1937.4" cy="3093.6" r="13.8" stroke="#ffff00" stroke-width="7.5" fill="none"/><circle cx="1937.4" cy="3093.6" r="4" fill="#ffff00"/><circle cx="1968.6" cy="3093.6" r="13.8" stroke="#ffff00" stroke-width="7.5" fill="none"/><circle cx="1968.6" cy="3093.6" r="4" fill="#ffff00"/><circle cx="1999.7" cy="3093.6" r="13.8" stroke="#ffff00" stroke-width="7.5" fill="none"/><circle cx="1999.7" cy="3093.6" r="4" fill="#ffff00"/><circle cx="2030.9" cy="3093.6" r="13.8" stroke="#ffff00" stroke-width="7.5" fill="none"/><circle cx="2030.9" cy="3093.6" r="4" fill="#ffff00"/><circle cx="2062.1" cy="3093.6" r="13.8" stroke="#ffff00" stroke-width="7.5" fill="none"/><circle cx="2062.1" cy="3093.6" r="4" fill="#ffff00"/><circle cx="2093.2" cy="3093.6" r="13.8" stroke="#ffff00" stroke-width="7.5" fill="none"/><circle cx="2093.2" cy="3093.6" r="4" fill="#ffff00"/><circle cx="2124.4" cy="3093.6" r="13.8" stroke="#ffff00" stroke-width="7.5" fill="none"/><circle cx="2124.4" cy="3093.6" r="4" fill="#ffff00"/><circle cx="2155.6" cy="3093.6" r="13.8" stroke="#ffff00" stroke-width="7.5" fill="none"/><circle cx="2155.6" cy="3093.6" r="4" fill="#ffff00"/><circle cx="2186.7" cy="3093.6" r="13.8" stroke="#ffff00" stroke-width="7.5" fill="none"/><circle cx="2186.7" cy="3093.6" r="4" fill="#ffff00"/><circle cx="2217.9" cy="3093.6" r="13.8" stroke="#ffff00" stroke-width="7.5" fill="none"/><circle cx="2217.9" cy="3093.6" r="4" fill="#ffff00"/></g>
<g><circle cx="378.9" cy="2909.3" r="14.6" fill="#000000"/><circle cx="410.1" cy="2540.8" r="14.6" fill="#000000"/><circle cx="441.2" cy="2258.5" r="14.6" fill="#000000"/><circle cx="472.4" cy="1990.8" r="14.6" fill="#000000"/><circle cx="503.6" cy="1851.9" r="14.6" fill="#000000"/><circle cx="534.7" cy="1791.5" r="14.6" fill="#000000"/><circle cx="565.9" cy="1792.5" r="14.6" fill="#000000"/><circle cx="597.1" cy="1887.6" r="14.6" fill="#000000"/><circle cx="628.2" cy="1966.1" r="14.6" fill="#000000"/><circle cx="659.4" cy="2037.5" r="14.6" fill="#000000"/><circle cx="690.6" cy="2150.2" r="14.6" fill="#000000"/><circle cx="721.8" cy="2217.0" r="14.6" fill="#000000"/><circle cx="752.9" cy="2303.6" r="14.6" fill="#000000"/><circle cx="784.1" cy="2409.2" r="14.6" fill="#000000"/><circle cx="815.3" cy="2522.6" r="14.6" fill="#000000"/><circle cx="846.4" cy="2595.3" r="14.6" fill="#000000"/><circle cx="877.6" cy="2668.7" r="14.6" fill="#000000"/><circle cx="908.8" cy="2730.3" r="14.6" fill="#000000"/><circle cx="939.9" cy="2801.7" r="14.6" fill="#000000"/><circle cx="971.1" cy="2862.1" r="14.6" fill="#000000"/><circle cx="1002.3" cy="2895.3" r="14.6" fill="#000000"/><circle cx="1033.5" cy="2933.5" r="14.6" fill="#000000"/><circle cx="1064.6" cy="2947.5" r="14.6" fill="#000000"/><circle cx="1095.8" cy="2985.3" r="14.6" fill="#000000"/><circle cx="1127.0" cy="2992.1" r="14.6" fill="#000000"/><circle cx="1158.1" cy="3027.3" r="14.6" fill="#000000"/><circle cx="1189.3" cy="3031.2" r="14.6" fill="#000000"/><circle cx="1220.5" cy="3042.1" r="14.6" fill="#000000"/><circle cx="1251.6" cy="3050.3" r="14.6" fill="#000000"/><circle cx="1282.8" cy="3056.6" r="14.6" fill="#000000"/><circle cx="1314.0" cy="3068.1" r="14.6" fill="#000000"/><circle cx="1345.2" cy="3073.7" r="14.6" fill="#000000"/><circle cx="1376.3" cy="3078.3" r="14.6" fill="#000000"/><circle cx="1407.5" cy="3082.1" r="14.6" fill="#000000"/><circle cx="1438.7" cy="3086.0" r="14.6" fill="#000000"/><circle cx="1469.8" cy="3088.0" r="14.6" fill="#000000"/><circle cx="1501.0" cy="3089.3" r="14.6" fill="#000000"/><circle cx="1532.2" cy="3090.0" r="14.6" fill="#000000"/><circle cx="1563.3" cy="3091.0" r="14.6" fill="#000000"/><circle cx="1594.5" cy="3091.8" r="14.6" fill="#000000"/><circle cx="1625.7" cy="3092.3" r="14.6" fill="#000000"/><circle cx="1656.9" cy="3092.5" r="14.6" fill="#000000"/><circle cx="1688.0" cy="3092.8" r="14.6" fill="#000000"/><circle cx="1719.2" cy="3093.1" r="14.6" fill="#000000"/><circle cx="1750.4" cy="3093.3" r="14.6" fill="#000000"/><circle cx="1781.5" cy="3093.3" r="14.6" fill="#000000"/><circle cx="1812.7" cy="3093.6" r="14.6" fill="#000000"/><circle cx="1843.9" cy="3093.6" r="14.6" fill="#000000"/><circle cx="1875.0" cy="3093.6" r="14.6" fill="#000000"/><circle cx="1906.2" cy="3093.6" r="14.6" fill="#000000"/><circle cx="1937.4" cy="3093.6" r="14.6" fill="#000000"/><circle cx="1968.6" cy="3093.6" r="14.6" fill="#000000"/><circle cx="1999.7" cy="3093.6" r="14.6" fill="#000000"/><circle cx="2030.9" cy="3093.6" r="14.6" fill="#000000"/><circle cx="2062.1" cy="3093.6" r="14.6" fill="#000000"/><circle cx="2093.2" cy="3093.6" r="14.6" fill="#000000"/><circle cx="2124.4" cy="3093.6" r="14.6" fill="#000000"/><circle cx="2155.6" cy="3093.6" r="14.6" fill="#000000"/><circle cx="2186.7" cy="3093.6" r="14.6" fill="#000000"/><circle cx="2217.9" cy="3093.6" r="14.6" fill="#000000"/></g>
<path d="M378.9 2955.0L410.1 2681.0L441.2 2477.0L472.4 2283.5L503.6 2151.4L534.7 2054.6L565.9 2003.6L597.1 1993.4L628.2 2015.5L659.4 2060.9L690.6 2137.4L721.8 2205.7L752.9 2269.7L784.1 2341.9L815.3 2415.8L846.4 2489.7L877.6 2556.5L908.8 2617.7L939.9 2675.0L971.1 2729.0L1002.3 2778.0L1033.5 2824.4L1064.6 2863.5L1095.8 2899.6L1127.0 2932.7L1158.1 2962.3L1189.3 2986.5L1220.5 3005.7L1251.6 3021.0L1282.8 3033.2L1314.0 3043.9L1345.2 3053.3L1376.3 3060.5L1407.5 3066.1L1438.7 3070.7L1469.8 3074.5L1501.0 3077.8L1532.2 3079.8L1563.3 3081.1L1594.5 3082.9L1625.7 3084.4L1656.9 3085.7L1688.0 3086.7L1719.2 3087.7L1750.4 3088.5L1781.5 3089.0L1812.7 3089.5L1843.9 3090.0L1875.0 3090.5L1906.2 3091.0L1937.4 3091.3L1968.6 3091.5L1999.7 3091.8L2030.9 3092.0L2062.1 3092.0L2093.2 3092.3L2124.4 3092.3L2155.6 3092.5L2186.7 3092.5L2217.9 3092.5" stroke="#808080" stroke-width="11" fill="none" stroke-linejoin="miter"/>
<path d="M378.7 3037.8L392.1 2988.7" stroke="#808080" stroke-width="14" fill="none"/>
<path d="M419.3 2891.3L435.4 2842.9" stroke="#808080" stroke-width="14" fill="none"/>
<path d="M464.2 2744.7L480.5 2698.3" stroke="#808080" stroke-width="14" fill="none"/>
<path d="M515.2 2601.9L533.6 2556.1" stroke="#808080" stroke-width="14" fill="none"/>
<path d="M578.7 2464.3L607.0 2422.2" stroke="#808080" stroke-width="14" fill="none"/>
<path d="M683.5 2358.5L706.9 2351.6L731.9 2352.6" stroke="#808080" stroke-width="14" fill="none"/>
<path d="M824.1 2393.8L846.4 2409.5L861.6 2426.6" stroke="#808080" stroke-width="14" fill="none"/>
<path d="M929.9 2499.9L964.3 2540.7" stroke="#808080" stroke-width="14" fill="none"/>
<path d="M1029.4 2615.7L1066.3 2653.9" stroke="#808080" stroke-width="14" fill="none"/>
<path d="M1132.5 2727.0L1169.5 2764.7" stroke="#808080" stroke-width="14" fill="none"/>
<path d="M1239.6 2833.1L1283.0 2865.4" stroke="#808080" stroke-width="14" fill="none"/>
<path d="M1363.3 2920.8L1410.4 2948.3" stroke="#808080" stroke-width="14" fill="none"/>
<path d="M1499.6 2989.0L1549.3 3007.9" stroke="#808080" stroke-width="14" fill="none"/>
<path d="M1644.9 3034.7L1695.9 3047.4" stroke="#808080" stroke-width="14" fill="none"/>
<path d="M1795.3 3061.4L1846.3 3070.4" stroke="#808080" stroke-width="14" fill="none"/>
<path d="M1946.6 3076.7L1997.6 3083.1" stroke="#808080" stroke-width="14" fill="none"/>
<path d="M2098.0 3083.9L2149.8 3084.9" stroke="#808080" stroke-width="14" fill="none"/>
<rect x="363.3" y="1760.4" width="1870.2" height="1333.6" stroke="#000" stroke-width="4.2" fill="none" shape-rendering="crispEdges"/>
<text transform="translate(305.7 3126.0) scale(1 1.015)" font-size="94.8" text-anchor="end">0</text>
<text transform="translate(305.7 2959.3) scale(1 1.015)" font-size="94.8" text-anchor="end">0.2</text>
<text transform="translate(305.7 2792.6) scale(1 1.015)" font-size="94.8" text-anchor="end">0.4</text>
<text transform="translate(305.7 2625.9) scale(1 1.015)" font-size="94.8" text-anchor="end">0.6</text>
<text transform="translate(305.7 2459.2) scale(1 1.015)" font-size="94.8" text-anchor="end">0.8</text>
<text transform="translate(305.7 2292.5) scale(1 1.015)" font-size="94.8" text-anchor="end">1</text>
<text transform="translate(305.7 2125.8) scale(1 1.015)" font-size="94.8" text-anchor="end">1.2</text>
<text transform="translate(305.7 1959.1) scale(1 1.015)" font-size="94.8" text-anchor="end">1.4</text>
<text transform="translate(305.7 1792.4) scale(1 1.015)" font-size="94.8" text-anchor="end">1.6</text>
<text transform="translate(376.3 3221.0) scale(1 1.015)" font-size="94.8" text-anchor="middle">0</text>
<text transform="translate(688.0 3221.0) scale(1 1.015)" font-size="94.8" text-anchor="middle">0.5</text>
<text transform="translate(999.7 3221.0) scale(1 1.015)" font-size="94.8" text-anchor="middle">1</text>
<text transform="translate(1311.4 3221.0) scale(1 1.015)" font-size="94.8" text-anchor="middle">1.5</text>
<text transform="translate(1623.1 3221.0) scale(1 1.015)" font-size="94.8" text-anchor="middle">2</text>
<text transform="translate(1934.8 3221.0) scale(1 1.015)" font-size="94.8" text-anchor="middle">2.5</text>
<text transform="translate(2246.5 3221.0) scale(1 1.015)" font-size="94.8" text-anchor="middle">3</text>
<text x="1141.5" y="3333.2" font-size="94.8">r<tspan font-size="75.8" dy="28">xy</tspan><tspan dy="-28"> [nm]</tspan></text>
<g transform="translate(111.4 2744.5) rotate(-90)" font-size="94.8"><text x="0" y="0">2</text><text x="52" y="0" style="font-family:'Liberation Serif', 'DejaVu Serif', serif;font-size:100px" stroke="#000" stroke-width="1.6">π</text><text x="104.2" y="0">r<tspan font-size="75.8" dy="28">xy</tspan><tspan dy="-28">G(r</tspan><tspan font-size="75.8" dy="28">xy</tspan><tspan dy="-28">,1ns)</tspan></text></g>
<text transform="translate(1904.0 1838.3) scale(1 1.015)" font-size="94.8" text-anchor="end">1</text>
<path d="M2069.0 1807.8H2098.0M2083.5 1793.3V1822.3" stroke="#ff0000" stroke-width="8.0" fill="none"/>
<text transform="translate(1904.0 1932.8) scale(1 1.015)" font-size="94.8" text-anchor="end">3</text>
<path d="M2069.5 1888.3L2097.5 1916.3M2069.5 1916.3L2097.5 1888.3" stroke="#00ff00" stroke-width="8.0" fill="none"/>
<text transform="translate(1904.0 2027.4) scale(1 1.015)" font-size="94.8" text-anchor="end">5</text>
<path d="M2069.0 1996.9H2098.0M2083.5 1982.4V2011.4M2069.5 1982.9L2097.5 2010.9M2069.5 2010.9L2097.5 1982.9" stroke="#0000ff" stroke-width="8.0" fill="none"/>
<text transform="translate(1904.0 2121.9) scale(1 1.015)" font-size="94.8" text-anchor="end">7</text>
<rect x="2069.8" y="2077.7" width="27.5" height="27.5" stroke="#ff00ff" stroke-width="7.5" fill="none"/><circle cx="2083.5" cy="2091.4" r="4" fill="#ff00ff"/>
<text transform="translate(1904.0 2216.5) scale(1 1.015)" font-size="94.8" text-anchor="end">9</text>
<rect x="2069.0" y="2171.5" width="29.0" height="29.0" fill="#00ffff"/>
<text transform="translate(1904.0 2311.1) scale(1 1.015)" font-size="94.8" text-anchor="end">15</text>
<circle cx="2083.5" cy="2280.6" r="13.8" stroke="#ffff00" stroke-width="7.5" fill="none"/><circle cx="2083.5" cy="2280.6" r="4" fill="#ffff00"/>
<text transform="translate(1904.0 2405.6) scale(1 1.015)" font-size="94.8" text-anchor="end">18</text>
<circle cx="2083.5" cy="2375.1" r="14.6" fill="#000000"/>
<text x="1904.0" y="2500.2" font-size="94.8" text-anchor="end" >average, 1st layer</text>
<path d="M1959 2469.7H2209" stroke="#808080" stroke-width="11" shape-rendering="crispEdges"/>
<text x="1904.0" y="2594.7" font-size="94.8" text-anchor="end" >average, 2nd layer</text>
<path d="M1959 2564.2H2209" stroke="#808080" stroke-width="14" stroke-dasharray="52 100" shape-rendering="crispEdges"/>
</g>
<text x="801.0" y="179.4" font-size="108.0" text-anchor="start" >(a)</text>
<text x="676.0" y="1879.4" font-size="108.0" text-anchor="start" >(b)</text>
</svg></body></html>
